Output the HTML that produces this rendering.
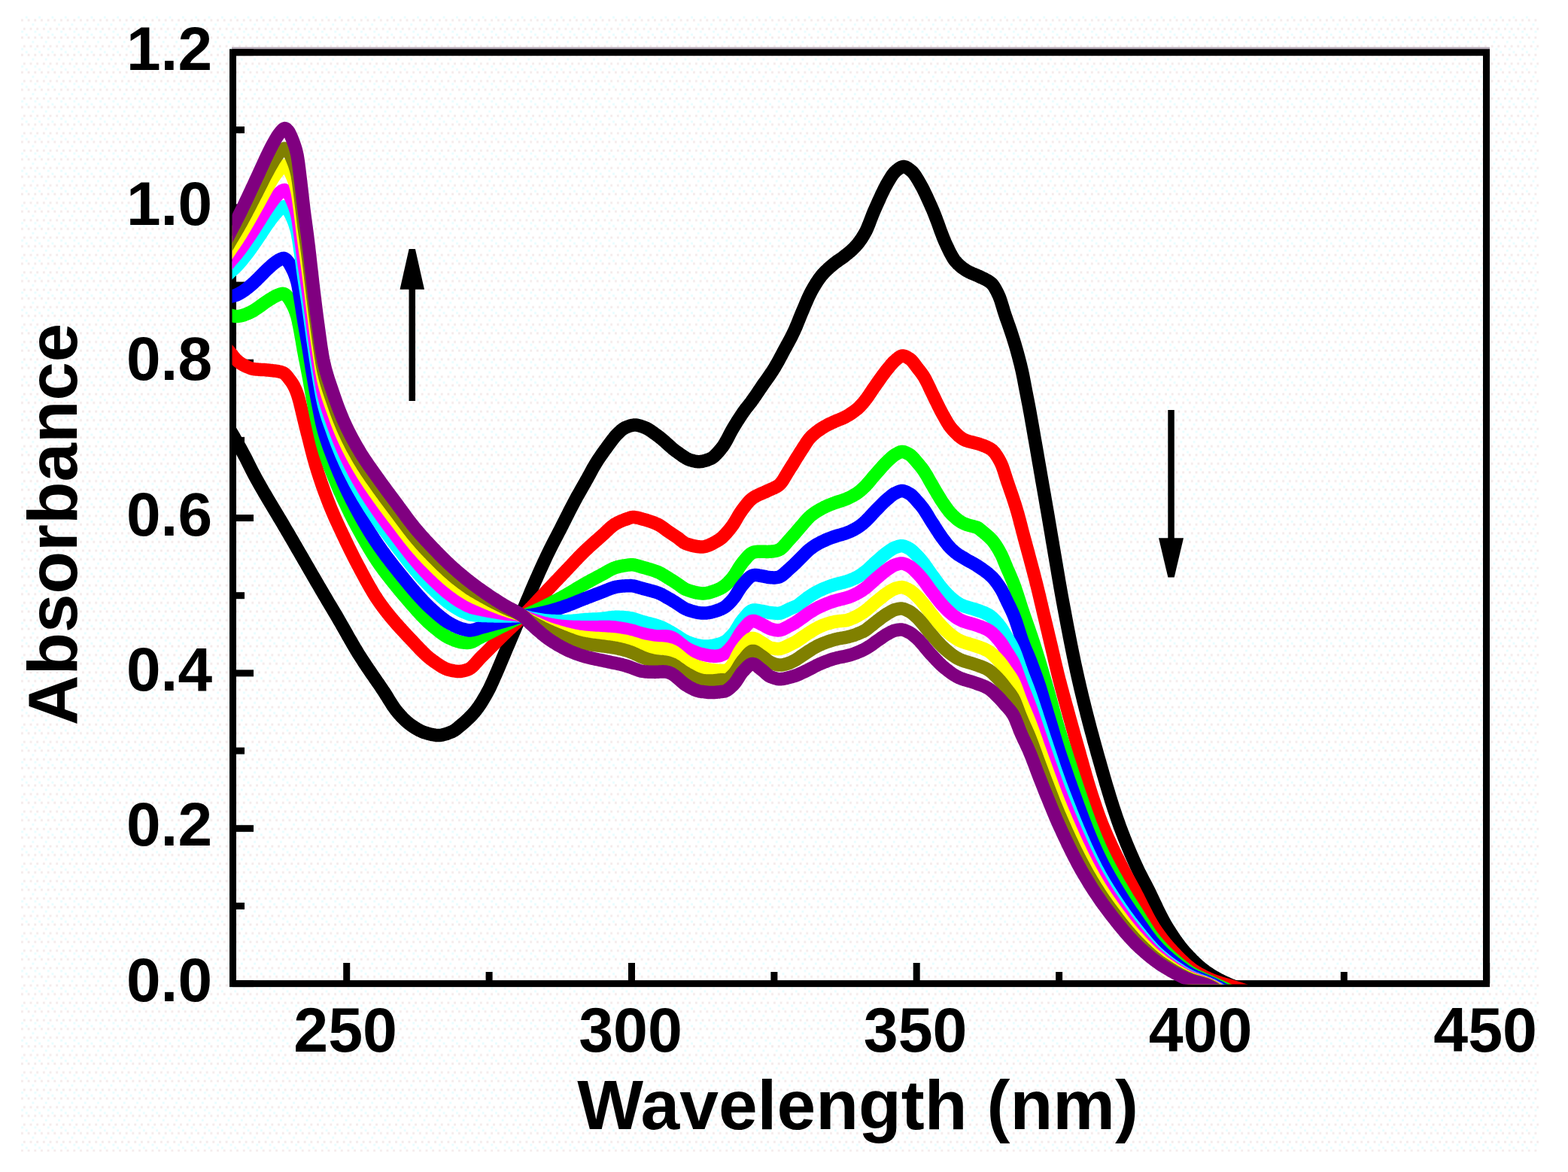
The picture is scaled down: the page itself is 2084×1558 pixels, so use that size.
<!DOCTYPE html>
<html><head><meta charset="utf-8"><title>Absorbance vs Wavelength</title>
<style>
html,body{margin:0;padding:0;background:#fff;}
body{width:2084px;height:1558px;overflow:hidden;}
svg{display:block;}
text{font-family:"Liberation Sans",sans-serif;font-weight:bold;fill:#000;}
</style></head><body>
<svg xmlns="http://www.w3.org/2000/svg" width="2084" height="1558" viewBox="0 0 2084 1558">
<rect x="0" y="0" width="2084" height="1558" fill="#ffffff"/>
<defs>
<pattern id="dz" x="28" y="21" width="17.34" height="23.12" patternUnits="userSpaceOnUse">
<rect x="0" y="4.4" width="2.9" height="2.9" fill="#f4ebeb"/><rect x="8.67" y="4.4" width="2.9" height="2.9" fill="#f4ebeb"/>
<rect x="2.9" y="15.96" width="2.9" height="2.9" fill="#f4ebeb"/><rect x="11.57" y="15.96" width="2.9" height="2.9" fill="#f4ebeb"/>
<rect x="5.8" y="0.6" width="2.9" height="2.9" fill="#e8fdff"/><rect x="14.4" y="10.2" width="2.9" height="2.9" fill="#e8fdff"/>
<rect x="0.2" y="19.8" width="2.9" height="2.9" fill="#e8fdff"/>
</pattern>
<clipPath id="c"><rect x="308.5" y="69" width="1667.5" height="1239.5"/></clipPath></defs>
<rect x="28" y="21" width="2017" height="1510" fill="url(#dz)"/>
<rect x="308" y="62.6" width="1672" height="3" fill="#b5a9b6"/>
<rect x="309.5" y="69.7" width="1666" height="1237.9" fill="none" stroke="#000" stroke-width="9"/>
<g stroke="#000" stroke-width="9" fill="none"><line x1="460.7" y1="1307.6" x2="460.7" y2="1280" /><line x1="839.5" y1="1307.6" x2="839.5" y2="1280" /><line x1="1218.2" y1="1307.6" x2="1218.2" y2="1280" /><line x1="1597.0" y1="1307.6" x2="1597.0" y2="1280" /><line x1="1975.7" y1="1307.6" x2="1975.7" y2="1280" /><line x1="650.1" y1="1307.6" x2="650.1" y2="1292" /><line x1="1028.9" y1="1307.6" x2="1028.9" y2="1292" /><line x1="1407.6" y1="1307.6" x2="1407.6" y2="1292" /><line x1="1786.3" y1="1307.6" x2="1786.3" y2="1292" /><line x1="309" y1="1307.6" x2="337" y2="1307.6" /><line x1="309" y1="1204.4" x2="325" y2="1204.4" /><line x1="309" y1="1101.3" x2="337" y2="1101.3" /><line x1="309" y1="998.1" x2="325" y2="998.1" /><line x1="309" y1="894.9" x2="337" y2="894.9" /><line x1="309" y1="791.7" x2="325" y2="791.7" /><line x1="309" y1="688.6" x2="337" y2="688.6" /><line x1="309" y1="585.4" x2="325" y2="585.4" /><line x1="309" y1="482.2" x2="337" y2="482.2" /><line x1="309" y1="379.1" x2="325" y2="379.1" /><line x1="309" y1="275.9" x2="337" y2="275.9" /><line x1="309" y1="172.7" x2="325" y2="172.7" /><line x1="309" y1="69.6" x2="337" y2="69.6" /></g>
<g clip-path="url(#c)" fill="none" stroke-width="17.5" stroke-linejoin="round" stroke-linecap="butt">
<path stroke="#000000" d="M296.0 554.4L297.5 557.1L299.0 559.7L300.5 562.3L302.0 565.0L303.5 567.6L305.0 570.2L306.5 572.9L308.0 575.5L309.5 578.1L311.0 580.7L312.5 583.4L314.0 586.0L315.5 588.7L317.0 591.4L318.5 594.1L320.0 596.8L321.5 599.5L323.0 602.3L324.5 605.1L326.0 607.9L327.5 610.8L329.0 613.8L330.5 616.8L332.0 619.8L333.5 622.8L335.0 625.8L336.5 628.7L338.0 631.5L339.5 634.3L341.0 637.1L342.5 639.8L344.0 642.5L345.5 645.1L347.0 647.8L348.5 650.4L350.0 653.0L351.5 655.6L353.0 658.1L354.5 660.7L356.0 663.2L357.5 665.7L359.0 668.2L360.5 670.7L362.0 673.2L363.5 675.7L365.0 678.2L366.5 680.7L368.0 683.2L369.5 685.7L371.0 688.3L372.5 690.8L374.0 693.3L375.5 695.8L377.0 698.4L378.5 700.9L380.0 703.5L381.5 706.1L383.0 708.6L384.5 711.2L386.0 713.8L387.5 716.3L389.0 718.9L390.5 721.5L392.0 724.1L393.5 726.7L395.0 729.3L396.5 731.9L398.0 734.5L399.5 737.0L401.0 739.6L402.5 742.2L404.0 744.8L405.5 747.4L407.0 750.0L408.5 752.6L410.0 755.2L411.5 757.8L413.0 760.4L414.5 763.0L416.0 765.6L417.5 768.2L419.0 770.7L420.5 773.3L422.0 775.9L423.5 778.5L425.0 781.0L426.5 783.6L428.0 786.2L429.5 788.7L431.0 791.3L432.5 793.8L434.0 796.4L435.5 798.9L437.0 801.5L438.5 804.0L440.0 806.5L441.5 809.0L443.0 811.5L444.5 814.1L446.0 816.6L447.5 819.1L449.0 821.7L450.5 824.3L452.0 826.9L453.5 829.5L455.0 832.1L456.5 834.8L458.0 837.4L459.5 840.1L461.0 842.7L462.5 845.4L464.0 848.0L465.5 850.6L467.0 853.2L468.5 855.8L470.0 858.4L471.5 860.9L473.0 863.5L474.5 865.9L476.0 868.4L477.5 870.8L479.0 873.2L480.5 875.5L482.0 877.8L483.5 880.1L485.0 882.4L486.5 884.6L488.0 886.9L489.5 889.1L491.0 891.3L492.5 893.5L494.0 895.7L495.5 897.9L497.0 900.0L498.5 902.2L500.0 904.4L501.5 906.6L503.0 908.7L504.5 910.9L506.0 913.1L507.5 915.4L509.0 917.6L510.5 919.8L512.0 922.1L513.5 924.5L515.0 926.9L516.5 929.4L518.0 931.8L519.5 934.2L521.0 936.6L522.5 938.9L524.0 941.0L525.5 943.1L527.0 945.0L528.5 946.8L530.0 948.6L531.5 950.3L533.0 951.9L534.5 953.6L536.0 955.1L537.5 956.6L539.0 958.0L540.5 959.4L542.0 960.7L543.5 961.9L545.0 963.0L546.5 964.1L548.0 965.1L549.5 966.1L551.0 967.1L552.5 968.1L554.0 969.0L555.5 969.8L557.0 970.7L558.5 971.4L560.0 972.1L561.5 972.8L563.0 973.4L564.5 973.9L566.0 974.3L567.5 974.7L569.0 975.2L570.5 975.6L572.0 976.0L573.5 976.3L575.0 976.7L576.5 976.9L578.0 977.2L579.5 977.4L581.0 977.5L582.5 977.5L584.0 977.5L585.5 977.3L587.0 977.1L588.5 976.8L590.0 976.4L591.5 976.0L593.0 975.6L594.5 975.1L596.0 974.5L597.5 974.0L599.0 973.4L600.5 972.8L602.0 972.1L603.5 971.2L605.0 970.2L606.5 969.1L608.0 968.0L609.5 966.7L611.0 965.4L612.5 964.1L614.0 962.9L615.5 961.6L617.0 960.3L618.5 959.0L620.0 957.6L621.5 956.2L623.0 954.8L624.5 953.3L626.0 951.8L627.5 950.2L629.0 948.5L630.5 946.8L632.0 945.0L633.5 943.1L635.0 941.1L636.5 939.0L638.0 936.8L639.5 934.5L641.0 932.1L642.5 929.6L644.0 927.1L645.5 924.5L647.0 921.8L648.5 919.1L650.0 916.2L651.5 913.1L653.0 909.9L654.5 906.6L656.0 903.2L657.5 899.8L659.0 896.4L660.5 893.0L662.0 889.5L663.5 886.0L665.0 882.4L666.5 878.8L668.0 875.2L669.5 871.7L671.0 868.1L672.5 864.6L674.0 861.0L675.5 857.5L677.0 854.0L678.5 850.4L680.0 846.9L681.5 843.3L683.0 839.8L684.5 836.3L686.0 832.7L687.5 829.2L689.0 825.7L690.5 822.1L692.0 818.6L693.5 815.0L695.0 811.5L696.5 807.9L698.0 804.3L699.5 800.7L701.0 797.1L702.5 793.6L704.0 790.0L705.5 786.4L707.0 782.9L708.5 779.4L710.0 775.9L711.5 772.5L713.0 769.1L714.5 765.7L716.0 762.3L717.5 759.0L719.0 755.7L720.5 752.4L722.0 749.1L723.5 745.8L725.0 742.6L726.5 739.4L728.0 736.3L729.5 733.2L731.0 730.2L732.5 727.2L734.0 724.2L735.5 721.3L737.0 718.3L738.5 715.4L740.0 712.6L741.5 709.7L743.0 706.8L744.5 703.9L746.0 701.0L747.5 698.0L749.0 695.1L750.5 692.1L752.0 689.1L753.5 686.1L755.0 683.2L756.5 680.2L758.0 677.3L759.5 674.3L761.0 671.4L762.5 668.6L764.0 665.7L765.5 663.0L767.0 660.2L768.5 657.6L770.0 654.9L771.5 652.3L773.0 649.7L774.5 647.0L776.0 644.4L777.5 641.8L779.0 639.1L780.5 636.4L782.0 633.6L783.5 630.9L785.0 628.1L786.5 625.3L788.0 622.6L789.5 620.0L791.0 617.5L792.5 615.0L794.0 612.6L795.5 610.3L797.0 608.1L798.5 605.9L800.0 603.7L801.5 601.6L803.0 599.5L804.5 597.4L806.0 595.4L807.5 593.3L809.0 591.3L810.5 589.3L812.0 587.3L813.5 585.3L815.0 583.3L816.5 581.4L818.0 579.6L819.5 578.0L821.0 576.5L822.5 575.0L824.0 573.6L825.5 572.2L827.0 571.0L828.5 569.9L830.0 569.0L831.5 568.3L833.0 567.7L834.5 567.1L836.0 566.5L837.5 566.0L839.0 565.6L840.5 565.3L842.0 565.1L843.5 565.0L845.0 565.0L846.5 565.2L848.0 565.5L849.5 565.9L851.0 566.3L852.5 566.8L854.0 567.3L855.5 567.8L857.0 568.4L858.5 569.0L860.0 569.7L861.5 570.6L863.0 571.5L864.5 572.4L866.0 573.5L867.5 574.5L869.0 575.6L870.5 576.7L872.0 577.8L873.5 578.9L875.0 580.0L876.5 581.1L878.0 582.3L879.5 583.5L881.0 584.8L882.5 586.1L884.0 587.4L885.5 588.8L887.0 590.1L888.5 591.5L890.0 592.9L891.5 594.2L893.0 595.5L894.5 596.8L896.0 598.0L897.5 599.2L899.0 600.3L900.5 601.3L902.0 602.4L903.5 603.5L905.0 604.5L906.5 605.6L908.0 606.6L909.5 607.6L911.0 608.5L912.5 609.4L914.0 610.2L915.5 610.9L917.0 611.5L918.5 611.9L920.0 612.3L921.5 612.7L923.0 613.0L924.5 613.3L926.0 613.6L927.5 613.7L929.0 613.7L930.5 613.7L932.0 613.5L933.5 613.3L935.0 612.9L936.5 612.5L938.0 612.1L939.5 611.6L941.0 611.1L942.5 610.5L944.0 609.9L945.5 609.2L947.0 608.2L948.5 607.1L950.0 605.8L951.5 604.3L953.0 602.8L954.5 601.1L956.0 599.4L957.5 597.6L959.0 595.7L960.5 593.8L962.0 591.6L963.5 589.2L965.0 586.6L966.5 583.8L968.0 580.9L969.5 578.0L971.0 575.2L972.5 572.4L974.0 569.7L975.5 567.2L977.0 564.7L978.5 562.3L980.0 559.9L981.5 557.6L983.0 555.3L984.5 553.0L986.0 550.7L987.5 548.5L989.0 546.4L990.5 544.3L992.0 542.3L993.5 540.5L995.0 538.6L996.5 536.7L998.0 534.8L999.5 532.7L1001.0 530.6L1002.5 528.4L1004.0 526.3L1005.5 524.1L1007.0 521.9L1008.5 519.6L1010.0 517.4L1011.5 515.2L1013.0 513.0L1014.5 510.8L1016.0 508.7L1017.5 506.6L1019.0 504.5L1020.5 502.4L1022.0 500.2L1023.5 498.0L1025.0 495.8L1026.5 493.6L1028.0 491.2L1029.5 488.8L1031.0 486.2L1032.5 483.6L1034.0 480.9L1035.5 478.2L1037.0 475.4L1038.5 472.6L1040.0 469.7L1041.5 466.9L1043.0 464.1L1044.5 461.4L1046.0 458.6L1047.5 455.9L1049.0 453.1L1050.5 450.3L1052.0 447.4L1053.5 444.4L1055.0 441.3L1056.5 438.0L1058.0 434.6L1059.5 431.0L1061.0 427.3L1062.5 423.5L1064.0 419.8L1065.5 416.2L1067.0 412.6L1068.5 409.1L1070.0 405.5L1071.5 402.0L1073.0 398.5L1074.5 395.2L1076.0 392.0L1077.5 389.0L1079.0 386.2L1080.5 383.5L1082.0 380.9L1083.5 378.4L1085.0 376.0L1086.5 373.7L1088.0 371.5L1089.5 369.4L1091.0 367.4L1092.5 365.6L1094.0 363.9L1095.5 362.3L1097.0 360.7L1098.5 359.3L1100.0 357.9L1101.5 356.5L1103.0 355.2L1104.5 353.9L1106.0 352.7L1107.5 351.4L1109.0 350.2L1110.5 349.0L1112.0 347.9L1113.5 346.9L1115.0 345.8L1116.5 344.8L1118.0 343.7L1119.5 342.7L1121.0 341.6L1122.5 340.4L1124.0 339.2L1125.5 338.0L1127.0 336.8L1128.5 335.5L1130.0 334.3L1131.5 333.0L1133.0 331.6L1134.5 330.1L1136.0 328.6L1137.5 327.0L1139.0 325.3L1140.5 323.5L1142.0 321.5L1143.5 319.4L1145.0 317.3L1146.5 314.9L1148.0 312.5L1149.5 309.9L1151.0 307.1L1152.5 303.8L1154.0 300.3L1155.5 296.5L1157.0 292.5L1158.5 288.6L1160.0 284.8L1161.5 281.1L1163.0 277.7L1164.5 274.4L1166.0 271.0L1167.5 267.6L1169.0 264.3L1170.5 261.0L1172.0 257.8L1173.5 254.7L1175.0 251.7L1176.5 248.8L1178.0 246.0L1179.5 243.3L1181.0 240.8L1182.5 238.3L1184.0 235.8L1185.5 233.4L1187.0 231.3L1188.5 229.5L1190.0 228.0L1191.5 226.7L1193.0 225.5L1194.5 224.3L1196.0 223.3L1197.5 222.4L1199.0 221.8L1200.5 221.5L1202.0 221.6L1203.5 222.0L1205.0 222.7L1206.5 223.6L1208.0 224.7L1209.5 225.9L1211.0 227.2L1212.5 228.4L1214.0 230.1L1215.5 232.0L1217.0 234.2L1218.5 236.6L1220.0 239.1L1221.5 241.7L1223.0 244.2L1224.5 246.9L1226.0 249.7L1227.5 252.6L1229.0 255.7L1230.5 258.8L1232.0 262.0L1233.5 265.3L1235.0 268.6L1236.5 272.0L1238.0 275.4L1239.5 278.8L1241.0 282.4L1242.5 286.1L1244.0 290.0L1245.5 294.0L1247.0 298.1L1248.5 302.3L1250.0 306.4L1251.5 310.4L1253.0 314.4L1254.5 318.1L1256.0 321.7L1257.5 325.0L1259.0 328.1L1260.5 331.3L1262.0 334.3L1263.5 337.3L1265.0 340.0L1266.5 342.6L1268.0 344.9L1269.5 346.9L1271.0 348.6L1272.5 350.2L1274.0 351.7L1275.5 353.1L1277.0 354.4L1278.5 355.6L1280.0 356.7L1281.5 357.8L1283.0 358.8L1284.5 359.7L1286.0 360.6L1287.5 361.4L1289.0 362.1L1290.5 362.8L1292.0 363.5L1293.5 364.1L1295.0 364.7L1296.5 365.3L1298.0 365.9L1299.5 366.6L1301.0 367.3L1302.5 368.0L1304.0 368.7L1305.5 369.4L1307.0 370.1L1308.5 370.8L1310.0 371.6L1311.5 372.4L1313.0 373.2L1314.5 374.2L1316.0 375.3L1317.5 376.5L1319.0 378.0L1320.5 380.0L1322.0 382.3L1323.5 384.9L1325.0 387.8L1326.5 390.9L1328.0 394.1L1329.5 398.1L1331.0 402.7L1332.5 407.6L1334.0 412.7L1335.5 417.5L1337.0 421.9L1338.5 426.2L1340.0 430.4L1341.5 434.7L1343.0 439.0L1344.5 443.5L1346.0 448.1L1347.5 452.9L1349.0 457.8L1350.5 462.9L1352.0 468.2L1353.5 473.7L1355.0 479.4L1356.5 485.3L1358.0 491.7L1359.5 498.6L1361.0 506.4L1362.5 514.4L1364.0 522.1L1365.5 529.7L1367.0 537.4L1368.5 545.4L1370.0 553.7L1371.5 562.2L1373.0 570.8L1374.5 579.4L1376.0 588.0L1377.5 596.6L1379.0 605.2L1380.5 613.9L1382.0 622.6L1383.5 631.2L1385.0 639.9L1386.5 648.5L1388.0 657.1L1389.5 665.7L1391.0 674.4L1392.5 683.1L1394.0 691.9L1395.5 700.7L1397.0 709.6L1398.5 718.5L1400.0 727.4L1401.5 736.2L1403.0 745.0L1404.5 753.9L1406.0 762.8L1407.5 771.6L1409.0 780.2L1410.5 788.7L1412.0 797.0L1413.5 805.1L1415.0 813.2L1416.5 821.2L1418.0 829.1L1419.5 836.9L1421.0 844.7L1422.5 852.3L1424.0 859.9L1425.5 867.3L1427.0 874.6L1428.5 881.7L1430.0 888.7L1431.5 895.5L1433.0 902.2L1434.5 908.7L1436.0 915.2L1437.5 921.5L1439.0 927.7L1440.5 933.9L1442.0 939.9L1443.5 945.9L1445.0 951.7L1446.5 957.5L1448.0 963.3L1449.5 968.9L1451.0 974.5L1452.5 980.1L1454.0 985.6L1455.5 991.0L1457.0 996.4L1458.5 1001.8L1460.0 1007.1L1461.5 1012.4L1463.0 1017.7L1464.5 1023.0L1466.0 1028.2L1467.5 1033.4L1469.0 1038.5L1470.5 1043.6L1472.0 1048.6L1473.5 1053.6L1475.0 1058.5L1476.5 1063.3L1478.0 1068.1L1479.5 1072.8L1481.0 1077.3L1482.5 1081.8L1484.0 1086.2L1485.5 1090.6L1487.0 1094.8L1488.5 1098.9L1490.0 1102.9L1491.5 1106.8L1493.0 1110.7L1494.5 1114.6L1496.0 1118.3L1497.5 1122.0L1499.0 1125.6L1500.5 1129.2L1502.0 1132.7L1503.5 1136.2L1505.0 1139.6L1506.5 1143.0L1508.0 1146.3L1509.5 1149.6L1511.0 1152.9L1512.5 1156.1L1514.0 1159.2L1515.5 1162.2L1517.0 1165.1L1518.5 1168.0L1520.0 1170.9L1521.5 1173.7L1523.0 1176.6L1524.5 1179.5L1526.0 1182.5L1527.5 1185.5L1529.0 1188.6L1530.5 1191.8L1532.0 1194.9L1533.5 1198.1L1535.0 1201.3L1536.5 1204.4L1538.0 1207.6L1539.5 1210.7L1541.0 1213.7L1542.5 1216.7L1544.0 1219.6L1545.5 1222.5L1547.0 1225.2L1548.5 1227.9L1550.0 1230.4L1551.5 1232.9L1553.0 1235.3L1554.5 1237.7L1556.0 1240.1L1557.5 1242.4L1559.0 1244.7L1560.5 1246.9L1562.0 1249.1L1563.5 1251.2L1565.0 1253.3L1566.5 1255.3L1568.0 1257.3L1569.5 1259.2L1571.0 1261.1L1572.5 1262.9L1574.0 1264.7L1575.5 1266.3L1577.0 1268.0L1578.5 1269.6L1580.0 1271.2L1581.5 1272.8L1583.0 1274.3L1584.5 1275.9L1586.0 1277.3L1587.5 1278.8L1589.0 1280.2L1590.5 1281.6L1592.0 1283.0L1593.5 1284.3L1595.0 1285.6L1596.5 1286.8L1598.0 1288.1L1599.5 1289.2L1601.0 1290.4L1602.5 1291.5L1604.0 1292.5L1605.5 1293.6L1607.0 1294.6L1608.5 1295.5L1610.0 1296.5L1611.5 1297.4L1613.0 1298.3L1614.5 1299.1L1616.0 1300.0L1617.5 1300.8L1619.0 1301.6L1620.5 1302.4L1622.0 1303.2L1623.5 1303.9L1625.0 1304.6L1626.5 1305.4L1628.0 1306.1L1629.5 1306.8L1631.0 1307.4L1632.5 1308.1L1634.0 1308.8L1635.5 1309.4L1637.0 1310.0L1638.5 1310.7L1640.0 1311.3L1641.5 1311.9L1643.0 1312.5L1644.5 1313.1L1646.0 1313.7L1647.5 1314.2L1649.0 1314.8L1650.5 1315.4L1652.0 1315.9L1653.5 1316.4L1655.0 1316.9L1656.5 1317.4L1658.0 1317.9L1659.5 1318.4L1661.0 1318.8L1662.5 1319.3L1664.0 1319.7L1665.5 1320.2L1667.0 1320.7L1668.5 1321.3L1670.0 1321.8L1671.5 1322.3L1673.0 1322.9L1674.5 1323.4L1676.0 1324.0L1677.5 1324.5L1679.0 1325.0L1680.5 1325.6L1682.0 1326.1L1683.5 1326.6L1685.0 1327.2L1686.5 1327.7L1688.0 1328.3L1689.5 1328.8L1691.0 1329.3L1692.5 1329.9L1694.0 1330.4L1695.5 1331.0L1697.0 1331.5L1698.5 1332.0L1700.0 1332.6"/>
<path stroke="#ff0000" d="M296.0 457.5L297.5 459.2L299.0 460.9L300.5 462.6L302.0 464.2L303.5 465.9L305.0 467.6L306.5 469.3L308.0 471.0L309.5 473.0L311.0 474.8L312.5 476.6L314.0 478.1L315.5 479.6L317.0 480.8L318.5 482.0L320.0 483.1L321.5 484.1L323.0 485.0L324.5 485.8L326.0 486.5L327.5 487.2L329.0 487.9L330.5 488.5L332.0 489.1L333.5 489.7L335.0 490.1L336.5 490.4L338.0 490.7L339.5 490.8L341.0 491.0L342.5 491.1L344.0 491.2L345.5 491.3L347.0 491.4L348.5 491.5L350.0 491.5L351.5 491.6L353.0 491.7L354.5 491.9L356.0 492.0L357.5 492.2L359.0 492.3L360.5 492.5L362.0 492.6L363.5 492.8L365.0 493.0L366.5 493.2L368.0 493.4L369.5 493.7L371.0 494.0L372.5 494.3L374.0 494.7L375.5 495.2L377.0 495.9L378.5 497.0L380.0 498.4L381.5 500.1L383.0 501.9L384.5 503.9L386.0 505.9L387.5 508.0L389.0 510.3L390.5 512.9L392.0 516.0L393.5 519.4L395.0 523.4L396.5 528.1L398.0 533.5L399.5 539.4L401.0 545.6L402.5 551.9L404.0 558.3L405.5 564.5L407.0 570.4L408.5 576.2L410.0 582.1L411.5 588.1L413.0 594.1L414.5 600.0L416.0 605.7L417.5 611.3L419.0 616.6L420.5 621.6L422.0 626.5L423.5 631.2L425.0 635.7L426.5 640.2L428.0 644.6L429.5 648.8L431.0 653.0L432.5 657.0L434.0 661.0L435.5 664.9L437.0 668.7L438.5 672.5L440.0 676.2L441.5 679.7L443.0 683.2L444.5 686.7L446.0 690.1L447.5 693.4L449.0 696.6L450.5 699.9L452.0 703.1L453.5 706.3L455.0 709.5L456.5 712.6L458.0 715.8L459.5 719.0L461.0 722.1L462.5 725.2L464.0 728.3L465.5 731.4L467.0 734.4L468.5 737.4L470.0 740.4L471.5 743.3L473.0 746.2L474.5 749.1L476.0 751.9L477.5 754.7L479.0 757.5L480.5 760.3L482.0 763.1L483.5 765.9L485.0 768.7L486.5 771.4L488.0 774.2L489.5 776.8L491.0 779.5L492.5 782.1L494.0 784.7L495.5 787.2L497.0 789.7L498.5 792.1L500.0 794.4L501.5 796.7L503.0 798.9L504.5 801.1L506.0 803.2L507.5 805.2L509.0 807.3L510.5 809.3L512.0 811.2L513.5 813.2L515.0 815.1L516.5 816.9L518.0 818.8L519.5 820.6L521.0 822.4L522.5 824.2L524.0 825.9L525.5 827.7L527.0 829.4L528.5 831.1L530.0 832.8L531.5 834.4L533.0 836.1L534.5 837.7L536.0 839.3L537.5 841.0L539.0 842.6L540.5 844.2L542.0 845.8L543.5 847.4L545.0 848.9L546.5 850.5L548.0 852.1L549.5 853.7L551.0 855.3L552.5 856.9L554.0 858.5L555.5 860.1L557.0 861.7L558.5 863.2L560.0 864.8L561.5 866.3L563.0 867.7L564.5 869.2L566.0 870.6L567.5 872.0L569.0 873.3L570.5 874.5L572.0 875.8L573.5 876.9L575.0 878.0L576.5 879.1L578.0 880.1L579.5 881.2L581.0 882.3L582.5 883.3L584.0 884.3L585.5 885.2L587.0 886.2L588.5 887.0L590.0 887.8L591.5 888.6L593.0 889.2L594.5 889.8L596.0 890.2L597.5 890.6L599.0 891.0L600.5 891.3L602.0 891.6L603.5 891.9L605.0 892.1L606.5 892.3L608.0 892.4L609.5 892.5L611.0 892.5L612.5 892.4L614.0 892.1L615.5 891.9L617.0 891.5L618.5 891.1L620.0 890.6L621.5 890.2L623.0 889.6L624.5 888.8L626.0 887.7L627.5 886.5L629.0 885.0L630.5 883.5L632.0 881.8L633.5 880.1L635.0 878.4L636.5 876.7L638.0 875.1L639.5 873.5L641.0 872.0L642.5 870.6L644.0 869.1L645.5 867.6L647.0 866.1L648.5 864.6L650.0 863.1L651.5 861.6L653.0 860.0L654.5 858.5L656.0 857.0L657.5 855.5L659.0 854.0L660.5 852.5L662.0 851.0L663.5 849.5L665.0 848.0L666.5 846.5L668.0 845.1L669.5 843.6L671.0 842.2L672.5 840.7L674.0 839.3L675.5 837.9L677.0 836.4L678.5 835.0L680.0 833.6L681.5 832.2L683.0 830.7L684.5 829.3L686.0 827.9L687.5 826.4L689.0 824.9L690.5 823.5L692.0 822.0L693.5 820.5L695.0 819.0L696.5 817.5L698.0 815.9L699.5 814.4L701.0 812.9L702.5 811.3L704.0 809.7L705.5 808.1L707.0 806.6L708.5 805.0L710.0 803.4L711.5 801.8L713.0 800.2L714.5 798.6L716.0 796.9L717.5 795.3L719.0 793.7L720.5 792.1L722.0 790.5L723.5 788.9L725.0 787.3L726.5 785.7L728.0 784.1L729.5 782.5L731.0 780.9L732.5 779.4L734.0 777.8L735.5 776.2L737.0 774.6L738.5 773.0L740.0 771.5L741.5 769.9L743.0 768.3L744.5 766.7L746.0 765.2L747.5 763.6L749.0 762.0L750.5 760.4L752.0 758.8L753.5 757.3L755.0 755.7L756.5 754.1L758.0 752.5L759.5 750.9L761.0 749.3L762.5 747.7L764.0 746.1L765.5 744.5L767.0 742.9L768.5 741.3L770.0 739.8L771.5 738.2L773.0 736.7L774.5 735.2L776.0 733.8L777.5 732.3L779.0 730.9L780.5 729.5L782.0 728.1L783.5 726.7L785.0 725.3L786.5 724.0L788.0 722.6L789.5 721.3L791.0 719.9L792.5 718.6L794.0 717.3L795.5 716.0L797.0 714.6L798.5 713.3L800.0 712.0L801.5 710.7L803.0 709.3L804.5 707.9L806.0 706.4L807.5 705.0L809.0 703.6L810.5 702.2L812.0 700.9L813.5 699.7L815.0 698.5L816.5 697.4L818.0 696.4L819.5 695.6L821.0 694.8L822.5 694.1L824.0 693.4L825.5 692.7L827.0 692.1L828.5 691.5L830.0 690.9L831.5 690.4L833.0 689.9L834.5 689.4L836.0 688.8L837.5 688.2L839.0 687.8L840.5 687.5L842.0 687.5L843.5 687.6L845.0 687.8L846.5 688.1L848.0 688.4L849.5 688.8L851.0 689.2L852.5 689.6L854.0 690.1L855.5 690.5L857.0 690.9L858.5 691.3L860.0 691.7L861.5 692.2L863.0 692.7L864.5 693.2L866.0 693.7L867.5 694.3L869.0 694.8L870.5 695.5L872.0 696.1L873.5 696.8L875.0 697.5L876.5 698.3L878.0 699.2L879.5 700.2L881.0 701.3L882.5 702.4L884.0 703.5L885.5 704.6L887.0 705.7L888.5 706.7L890.0 707.7L891.5 708.7L893.0 709.7L894.5 710.7L896.0 711.7L897.5 712.7L899.0 713.7L900.5 714.7L902.0 715.9L903.5 717.1L905.0 718.3L906.5 719.5L908.0 720.6L909.5 721.6L911.0 722.4L912.5 723.0L914.0 723.5L915.5 723.9L917.0 724.4L918.5 724.8L920.0 725.2L921.5 725.6L923.0 725.9L924.5 726.2L926.0 726.5L927.5 726.7L929.0 726.8L930.5 726.9L932.0 727.0L933.5 727.0L935.0 726.8L936.5 726.6L938.0 726.2L939.5 725.8L941.0 725.3L942.5 724.7L944.0 724.0L945.5 723.3L947.0 722.6L948.5 721.7L950.0 720.9L951.5 720.1L953.0 719.2L954.5 718.3L956.0 717.4L957.5 716.3L959.0 715.1L960.5 713.8L962.0 712.3L963.5 710.8L965.0 709.1L966.5 707.4L968.0 705.6L969.5 703.8L971.0 701.9L972.5 700.0L974.0 697.9L975.5 695.6L977.0 693.2L978.5 690.6L980.0 688.0L981.5 685.4L983.0 682.9L984.5 680.7L986.0 678.6L987.5 676.6L989.0 674.6L990.5 672.6L992.0 670.7L993.5 668.8L995.0 667.1L996.5 665.5L998.0 664.1L999.5 662.9L1001.0 661.8L1002.5 660.8L1004.0 660.0L1005.5 659.1L1007.0 658.4L1008.5 657.6L1010.0 657.0L1011.5 656.3L1013.0 655.7L1014.5 655.0L1016.0 654.4L1017.5 653.7L1019.0 653.0L1020.5 652.3L1022.0 651.6L1023.5 650.9L1025.0 650.3L1026.5 649.6L1028.0 649.0L1029.5 648.3L1031.0 647.5L1032.5 646.7L1034.0 645.7L1035.5 644.6L1037.0 643.2L1038.5 641.4L1040.0 639.3L1041.5 637.1L1043.0 634.6L1044.5 632.1L1046.0 629.6L1047.5 627.0L1049.0 624.6L1050.5 622.2L1052.0 619.9L1053.5 617.5L1055.0 615.1L1056.5 612.6L1058.0 610.1L1059.5 607.7L1061.0 605.3L1062.5 602.9L1064.0 600.5L1065.5 598.2L1067.0 595.9L1068.5 593.5L1070.0 591.2L1071.5 588.8L1073.0 586.6L1074.5 584.5L1076.0 582.7L1077.5 581.0L1079.0 579.5L1080.5 578.1L1082.0 576.8L1083.5 575.5L1085.0 574.3L1086.5 573.2L1088.0 572.1L1089.5 571.1L1091.0 570.1L1092.5 569.1L1094.0 568.2L1095.5 567.3L1097.0 566.4L1098.5 565.6L1100.0 564.8L1101.5 564.0L1103.0 563.3L1104.5 562.6L1106.0 561.9L1107.5 561.2L1109.0 560.5L1110.5 559.9L1112.0 559.2L1113.5 558.6L1115.0 558.0L1116.5 557.4L1118.0 556.8L1119.5 556.2L1121.0 555.5L1122.5 554.7L1124.0 554.0L1125.5 553.1L1127.0 552.3L1128.5 551.4L1130.0 550.4L1131.5 549.4L1133.0 548.4L1134.5 547.3L1136.0 546.2L1137.5 545.0L1139.0 543.8L1140.5 542.6L1142.0 541.2L1143.5 539.6L1145.0 538.0L1146.5 536.3L1148.0 534.5L1149.5 532.6L1151.0 530.7L1152.5 528.7L1154.0 526.6L1155.5 524.4L1157.0 522.1L1158.5 519.9L1160.0 517.6L1161.5 515.4L1163.0 513.3L1164.5 511.2L1166.0 509.0L1167.5 506.9L1169.0 504.7L1170.5 502.6L1172.0 500.5L1173.5 498.4L1175.0 496.4L1176.5 494.4L1178.0 492.5L1179.5 490.6L1181.0 488.8L1182.5 487.0L1184.0 485.2L1185.5 483.4L1187.0 481.8L1188.5 480.3L1190.0 479.0L1191.5 477.7L1193.0 476.5L1194.5 475.2L1196.0 474.2L1197.5 473.4L1199.0 473.0L1200.5 473.1L1202.0 473.4L1203.5 473.9L1205.0 474.6L1206.5 475.5L1208.0 476.4L1209.5 477.3L1211.0 478.6L1212.5 480.2L1214.0 482.0L1215.5 483.9L1217.0 486.0L1218.5 488.0L1220.0 490.0L1221.5 491.9L1223.0 493.7L1224.5 495.7L1226.0 497.8L1227.5 500.0L1229.0 502.5L1230.5 505.3L1232.0 508.2L1233.5 511.3L1235.0 514.5L1236.5 517.7L1238.0 520.9L1239.5 524.0L1241.0 527.0L1242.5 530.1L1244.0 533.2L1245.5 536.3L1247.0 539.4L1248.5 542.4L1250.0 545.4L1251.5 548.2L1253.0 550.9L1254.5 553.6L1256.0 556.3L1257.5 558.9L1259.0 561.4L1260.5 563.8L1262.0 566.1L1263.5 568.2L1265.0 570.0L1266.5 571.7L1268.0 573.3L1269.5 574.9L1271.0 576.4L1272.5 577.9L1274.0 579.3L1275.5 580.5L1277.0 581.7L1278.5 582.8L1280.0 583.7L1281.5 584.5L1283.0 585.2L1284.5 585.8L1286.0 586.3L1287.5 586.7L1289.0 587.1L1290.5 587.5L1292.0 587.9L1293.5 588.2L1295.0 588.6L1296.5 589.0L1298.0 589.4L1299.5 589.8L1301.0 590.3L1302.5 590.8L1304.0 591.3L1305.5 591.8L1307.0 592.4L1308.5 592.9L1310.0 593.5L1311.5 594.2L1313.0 594.9L1314.5 595.7L1316.0 596.5L1317.5 597.5L1319.0 598.7L1320.5 600.2L1322.0 601.9L1323.5 604.0L1325.0 606.2L1326.5 608.6L1328.0 611.3L1329.5 614.0L1331.0 617.1L1332.5 620.9L1334.0 625.3L1335.5 629.9L1337.0 634.7L1338.5 639.3L1340.0 643.6L1341.5 648.0L1343.0 652.3L1344.5 656.6L1346.0 661.0L1347.5 665.6L1349.0 670.2L1350.5 675.0L1352.0 680.1L1353.5 685.4L1355.0 691.0L1356.5 696.8L1358.0 702.6L1359.5 708.4L1361.0 714.1L1362.5 719.6L1364.0 725.1L1365.5 730.6L1367.0 736.1L1368.5 741.7L1370.0 747.3L1371.5 753.0L1373.0 758.6L1374.5 764.3L1376.0 770.1L1377.5 776.0L1379.0 782.0L1380.5 788.2L1382.0 794.5L1383.5 800.9L1385.0 807.3L1386.5 813.7L1388.0 820.0L1389.5 826.3L1391.0 832.6L1392.5 838.9L1394.0 845.3L1395.5 851.6L1397.0 857.9L1398.5 864.2L1400.0 870.6L1401.5 877.1L1403.0 883.5L1404.5 889.8L1406.0 896.0L1407.5 902.0L1409.0 907.8L1410.5 913.5L1412.0 919.1L1413.5 924.6L1415.0 930.1L1416.5 935.5L1418.0 940.9L1419.5 946.4L1421.0 951.8L1422.5 957.3L1424.0 962.7L1425.5 968.1L1427.0 973.4L1428.5 978.8L1430.0 984.1L1431.5 989.4L1433.0 994.7L1434.5 1000.0L1436.0 1005.3L1437.5 1010.6L1439.0 1015.9L1440.5 1021.3L1442.0 1026.5L1443.5 1031.8L1445.0 1036.9L1446.5 1041.9L1448.0 1046.8L1449.5 1051.6L1451.0 1056.3L1452.5 1060.9L1454.0 1065.5L1455.5 1069.9L1457.0 1074.4L1458.5 1078.7L1460.0 1082.9L1461.5 1087.0L1463.0 1090.9L1464.5 1094.8L1466.0 1098.5L1467.5 1102.1L1469.0 1105.6L1470.5 1109.1L1472.0 1112.6L1473.5 1115.9L1475.0 1119.3L1476.5 1122.5L1478.0 1125.7L1479.5 1128.9L1481.0 1132.0L1482.5 1135.1L1484.0 1138.2L1485.5 1141.2L1487.0 1144.2L1488.5 1147.2L1490.0 1150.2L1491.5 1153.1L1493.0 1156.1L1494.5 1159.0L1496.0 1161.9L1497.5 1164.8L1499.0 1167.6L1500.5 1170.4L1502.0 1173.1L1503.5 1175.8L1505.0 1178.5L1506.5 1181.2L1508.0 1184.0L1509.5 1186.8L1511.0 1189.7L1512.5 1192.6L1514.0 1195.6L1515.5 1198.6L1517.0 1201.6L1518.5 1204.6L1520.0 1207.6L1521.5 1210.5L1523.0 1213.5L1524.5 1216.4L1526.0 1219.3L1527.5 1222.1L1529.0 1224.8L1530.5 1227.4L1532.0 1230.0L1533.5 1232.4L1535.0 1234.8L1536.5 1237.0L1538.0 1239.1L1539.5 1241.2L1541.0 1243.3L1542.5 1245.3L1544.0 1247.3L1545.5 1249.2L1547.0 1251.1L1548.5 1253.0L1550.0 1254.8L1551.5 1256.5L1553.0 1258.3L1554.5 1260.0L1556.0 1261.6L1557.5 1263.3L1559.0 1264.9L1560.5 1266.5L1562.0 1268.0L1563.5 1269.6L1565.0 1271.1L1566.5 1272.6L1568.0 1274.1L1569.5 1275.6L1571.0 1277.1L1572.5 1278.5L1574.0 1279.9L1575.5 1281.3L1577.0 1282.7L1578.5 1284.0L1580.0 1285.2L1581.5 1286.4L1583.0 1287.6L1584.5 1288.7L1586.0 1289.8L1587.5 1290.8L1589.0 1291.7L1590.5 1292.6L1592.0 1293.5L1593.5 1294.4L1595.0 1295.2L1596.5 1296.0L1598.0 1296.8L1599.5 1297.6L1601.0 1298.4L1602.5 1299.1L1604.0 1299.8L1605.5 1300.5L1607.0 1301.1L1608.5 1301.8L1610.0 1302.4L1611.5 1303.0L1613.0 1303.6L1614.5 1304.2L1616.0 1304.7L1617.5 1305.3L1619.0 1305.8L1620.5 1306.3L1622.0 1306.7L1623.5 1307.2L1625.0 1307.6L1626.5 1308.1L1628.0 1308.5L1629.5 1308.9L1631.0 1309.3L1632.5 1309.8L1634.0 1310.2L1635.5 1310.6L1637.0 1311.1L1638.5 1311.5L1640.0 1312.0L1641.5 1312.5L1643.0 1313.0L1644.5 1313.4L1646.0 1313.9L1647.5 1314.4L1649.0 1314.9L1650.5 1315.4L1652.0 1315.9L1653.5 1316.4L1655.0 1316.9L1656.5 1317.4L1658.0 1317.9L1659.5 1318.4L1661.0 1318.9L1662.5 1319.4L1664.0 1319.9L1665.5 1320.4L1667.0 1321.0L1668.5 1321.5L1670.0 1322.0L1671.5 1322.5L1673.0 1323.0L1674.5 1323.5L1676.0 1324.0L1677.5 1324.5L1679.0 1325.0L1680.5 1325.5L1682.0 1326.0L1683.5 1326.5L1685.0 1327.0L1686.5 1327.5L1688.0 1328.0L1689.5 1328.5L1691.0 1329.0L1692.5 1329.5L1694.0 1330.0L1695.5 1330.5L1697.0 1331.0L1698.5 1331.5L1700.0 1332.0"/>
<path stroke="#00ff00" d="M296.0 417.4L297.5 417.6L299.0 417.9L300.5 418.1L302.0 418.4L303.5 418.6L305.0 418.9L306.5 419.1L308.0 419.4L309.5 419.8L311.0 420.1L312.5 420.4L314.0 420.5L315.5 420.5L317.0 420.3L318.5 420.1L320.0 419.9L321.5 419.5L323.0 419.1L324.5 418.6L326.0 418.0L327.5 417.5L329.0 416.9L330.5 416.2L332.0 415.6L333.5 414.8L335.0 414.0L336.5 413.2L338.0 412.2L339.5 411.2L341.0 410.2L342.5 409.2L344.0 408.2L345.5 407.1L347.0 406.1L348.5 405.0L350.0 403.9L351.5 402.8L353.0 401.7L354.5 400.7L356.0 399.7L357.5 398.8L359.0 397.8L360.5 396.9L362.0 396.0L363.5 395.1L365.0 394.3L366.5 393.5L368.0 392.8L369.5 392.1L371.0 391.5L372.5 391.0L374.0 390.6L375.5 390.3L377.0 390.4L378.5 391.0L380.0 392.2L381.5 393.7L383.0 395.6L384.5 397.7L386.0 400.1L387.5 402.7L389.0 405.5L390.5 408.6L392.0 412.1L393.5 416.1L395.0 420.9L396.5 427.2L398.0 434.8L399.5 442.8L401.0 451.2L402.5 459.9L404.0 468.4L405.5 476.3L407.0 483.9L408.5 491.5L410.0 499.5L411.5 507.7L413.0 516.1L414.5 524.5L416.0 532.6L417.5 540.5L419.0 548.1L420.5 555.4L422.0 562.4L423.5 569.1L425.0 575.8L426.5 582.3L428.0 588.5L429.5 594.1L431.0 599.1L432.5 603.9L434.0 608.3L435.5 612.6L437.0 616.7L438.5 620.8L440.0 624.7L441.5 628.5L443.0 632.3L444.5 636.1L446.0 639.8L447.5 643.4L449.0 647.0L450.5 650.5L452.0 653.9L453.5 657.3L455.0 660.6L456.5 663.9L458.0 667.2L459.5 670.4L461.0 673.6L462.5 676.7L464.0 679.8L465.5 682.8L467.0 685.8L468.5 688.8L470.0 691.7L471.5 694.6L473.0 697.5L474.5 700.3L476.0 703.0L477.5 705.8L479.0 708.5L480.5 711.2L482.0 713.9L483.5 716.6L485.0 719.2L486.5 721.8L488.0 724.4L489.5 727.0L491.0 729.5L492.5 732.0L494.0 734.4L495.5 736.8L497.0 739.2L498.5 741.6L500.0 743.8L501.5 746.1L503.0 748.3L504.5 750.5L506.0 752.6L507.5 754.7L509.0 756.7L510.5 758.8L512.0 760.8L513.5 762.8L515.0 764.8L516.5 766.7L518.0 768.6L519.5 770.5L521.0 772.4L522.5 774.3L524.0 776.2L525.5 778.0L527.0 779.8L528.5 781.7L530.0 783.5L531.5 785.3L533.0 787.1L534.5 788.9L536.0 790.7L537.5 792.4L539.0 794.2L540.5 796.0L542.0 797.7L543.5 799.4L545.0 801.2L546.5 802.9L548.0 804.6L549.5 806.3L551.0 808.0L552.5 809.7L554.0 811.4L555.5 813.1L557.0 814.7L558.5 816.3L560.0 817.9L561.5 819.5L563.0 821.1L564.5 822.6L566.0 824.1L567.5 825.6L569.0 827.0L570.5 828.4L572.0 829.7L573.5 831.0L575.0 832.3L576.5 833.5L578.0 834.8L579.5 836.0L581.0 837.2L582.5 838.4L584.0 839.6L585.5 840.8L587.0 841.9L588.5 843.0L590.0 844.0L591.5 845.0L593.0 845.9L594.5 846.7L596.0 847.5L597.5 848.2L599.0 848.9L600.5 849.6L602.0 850.2L603.5 850.9L605.0 851.4L606.5 852.0L608.0 852.5L609.5 852.9L611.0 853.3L612.5 853.6L614.0 853.9L615.5 854.1L617.0 854.2L618.5 854.3L620.0 854.4L621.5 854.4L623.0 854.3L624.5 854.1L626.0 853.7L627.5 853.2L629.0 852.5L630.5 851.7L632.0 850.9L633.5 850.0L635.0 849.1L636.5 848.3L638.0 847.4L639.5 846.7L641.0 845.9L642.5 845.2L644.0 844.5L645.5 843.8L647.0 843.0L648.5 842.3L650.0 841.5L651.5 840.7L653.0 840.0L654.5 839.2L656.0 838.4L657.5 837.7L659.0 836.9L660.5 836.2L662.0 835.4L663.5 834.6L665.0 833.9L666.5 833.1L668.0 832.4L669.5 831.7L671.0 830.9L672.5 830.2L674.0 829.4L675.5 828.7L677.0 827.9L678.5 827.2L680.0 826.4L681.5 825.6L683.0 824.9L684.5 824.1L686.0 823.4L687.5 822.6L689.0 821.9L690.5 821.2L692.0 820.4L693.5 819.7L695.0 819.0L696.5 818.3L698.0 817.7L699.5 817.1L701.0 816.5L702.5 815.9L704.0 815.3L705.5 814.7L707.0 814.0L708.5 813.3L710.0 812.6L711.5 811.9L713.0 811.2L714.5 810.5L716.0 809.8L717.5 809.1L719.0 808.4L720.5 807.7L722.0 806.9L723.5 806.2L725.0 805.4L726.5 804.7L728.0 803.9L729.5 803.2L731.0 802.4L732.5 801.6L734.0 800.8L735.5 800.0L737.0 799.3L738.5 798.5L740.0 797.7L741.5 796.9L743.0 796.0L744.5 795.2L746.0 794.4L747.5 793.6L749.0 792.7L750.5 791.9L752.0 791.1L753.5 790.2L755.0 789.3L756.5 788.5L758.0 787.6L759.5 786.7L761.0 785.8L762.5 784.9L764.0 784.0L765.5 783.1L767.0 782.1L768.5 781.2L770.0 780.3L771.5 779.4L773.0 778.6L774.5 777.7L776.0 776.8L777.5 776.0L779.0 775.1L780.5 774.3L782.0 773.5L783.5 772.7L785.0 771.8L786.5 771.0L788.0 770.2L789.5 769.4L791.0 768.6L792.5 767.8L794.0 767.0L795.5 766.2L797.0 765.4L798.5 764.6L800.0 763.8L801.5 763.0L803.0 762.2L804.5 761.3L806.0 760.5L807.5 759.6L809.0 758.7L810.5 757.9L812.0 757.1L813.5 756.4L815.0 755.7L816.5 755.1L818.0 754.5L819.5 754.1L821.0 753.6L822.5 753.3L824.0 752.9L825.5 752.6L827.0 752.3L828.5 752.0L830.0 751.8L831.5 751.6L833.0 751.4L834.5 751.2L836.0 751.0L837.5 750.8L839.0 750.7L840.5 750.7L842.0 750.9L843.5 751.2L845.0 751.5L846.5 751.9L848.0 752.3L849.5 752.7L851.0 753.2L852.5 753.6L854.0 754.1L855.5 754.5L857.0 754.9L858.5 755.3L860.0 755.7L861.5 756.2L863.0 756.6L864.5 757.0L866.0 757.5L867.5 758.0L869.0 758.5L870.5 759.0L872.0 759.6L873.5 760.1L875.0 760.7L876.5 761.4L878.0 762.2L879.5 763.0L881.0 763.9L882.5 764.8L884.0 765.7L885.5 766.7L887.0 767.6L888.5 768.6L890.0 769.5L891.5 770.4L893.0 771.3L894.5 772.3L896.0 773.3L897.5 774.2L899.0 775.2L900.5 776.2L902.0 777.3L903.5 778.4L905.0 779.5L906.5 780.6L908.0 781.6L909.5 782.5L911.0 783.3L912.5 783.9L914.0 784.5L915.5 785.0L917.0 785.5L918.5 786.0L920.0 786.4L921.5 786.9L923.0 787.3L924.5 787.6L926.0 788.0L927.5 788.2L929.0 788.5L930.5 788.6L932.0 788.8L933.5 788.9L935.0 788.9L936.5 788.8L938.0 788.6L939.5 788.4L941.0 788.1L942.5 787.8L944.0 787.4L945.5 786.9L947.0 786.5L948.5 785.9L950.0 785.4L951.5 784.8L953.0 784.2L954.5 783.6L956.0 782.9L957.5 782.2L959.0 781.4L960.5 780.4L962.0 779.4L963.5 778.3L965.0 777.0L966.5 775.6L968.0 774.1L969.5 772.5L971.0 770.9L972.5 769.2L974.0 767.3L975.5 765.3L977.0 763.1L978.5 760.7L980.0 758.3L981.5 755.8L983.0 753.4L984.5 751.2L986.0 749.1L987.5 747.2L989.0 745.4L990.5 743.6L992.0 741.8L993.5 740.1L995.0 738.5L996.5 737.1L998.0 735.9L999.5 735.0L1001.0 734.4L1002.5 733.9L1004.0 733.6L1005.5 733.4L1007.0 733.3L1008.5 733.3L1010.0 733.3L1011.5 733.3L1013.0 733.3L1014.5 733.3L1016.0 733.3L1017.5 733.3L1019.0 733.4L1020.5 733.4L1022.0 733.3L1023.5 733.3L1025.0 733.2L1026.5 733.0L1028.0 732.8L1029.5 732.6L1031.0 732.4L1032.5 732.0L1034.0 731.5L1035.5 730.9L1037.0 730.1L1038.5 728.9L1040.0 727.6L1041.5 726.1L1043.0 724.4L1044.5 722.7L1046.0 721.0L1047.5 719.2L1049.0 717.5L1050.5 715.9L1052.0 714.3L1053.5 712.6L1055.0 710.9L1056.5 709.2L1058.0 707.5L1059.5 705.7L1061.0 703.9L1062.5 702.2L1064.0 700.4L1065.5 698.7L1067.0 697.0L1068.5 695.2L1070.0 693.4L1071.5 691.7L1073.0 690.1L1074.5 688.5L1076.0 687.0L1077.5 685.7L1079.0 684.5L1080.5 683.4L1082.0 682.3L1083.5 681.2L1085.0 680.2L1086.5 679.3L1088.0 678.4L1089.5 677.5L1091.0 676.7L1092.5 675.9L1094.0 675.1L1095.5 674.3L1097.0 673.6L1098.5 672.9L1100.0 672.2L1101.5 671.6L1103.0 671.0L1104.5 670.4L1106.0 669.8L1107.5 669.2L1109.0 668.7L1110.5 668.1L1112.0 667.6L1113.5 667.1L1115.0 666.6L1116.5 666.2L1118.0 665.7L1119.5 665.3L1121.0 664.8L1122.5 664.2L1124.0 663.6L1125.5 663.0L1127.0 662.3L1128.5 661.6L1130.0 660.9L1131.5 660.1L1133.0 659.3L1134.5 658.5L1136.0 657.6L1137.5 656.7L1139.0 655.7L1140.5 654.6L1142.0 653.5L1143.5 652.3L1145.0 651.0L1146.5 649.6L1148.0 648.2L1149.5 646.8L1151.0 645.2L1152.5 643.6L1154.0 641.9L1155.5 640.1L1157.0 638.3L1158.5 636.5L1160.0 634.7L1161.5 632.9L1163.0 631.2L1164.5 629.5L1166.0 627.8L1167.5 626.1L1169.0 624.4L1170.5 622.7L1172.0 621.0L1173.5 619.3L1175.0 617.7L1176.5 616.1L1178.0 614.6L1179.5 613.1L1181.0 611.7L1182.5 610.3L1184.0 608.9L1185.5 607.6L1187.0 606.3L1188.5 605.2L1190.0 604.3L1191.5 603.4L1193.0 602.6L1194.5 601.8L1196.0 601.1L1197.5 600.6L1199.0 600.4L1200.5 600.6L1202.0 600.9L1203.5 601.5L1205.0 602.2L1206.5 603.0L1208.0 603.8L1209.5 604.7L1211.0 605.9L1212.5 607.3L1214.0 608.9L1215.5 610.6L1217.0 612.4L1218.5 614.2L1220.0 615.9L1221.5 617.7L1223.0 619.5L1224.5 621.3L1226.0 623.3L1227.5 625.4L1229.0 627.7L1230.5 630.1L1232.0 632.6L1233.5 635.3L1235.0 638.0L1236.5 640.6L1238.0 643.3L1239.5 645.8L1241.0 648.4L1242.5 650.9L1244.0 653.5L1245.5 656.1L1247.0 658.6L1248.5 661.1L1250.0 663.5L1251.5 665.9L1253.0 668.1L1254.5 670.3L1256.0 672.5L1257.5 674.6L1259.0 676.7L1260.5 678.6L1262.0 680.5L1263.5 682.2L1265.0 683.8L1266.5 685.3L1268.0 686.7L1269.5 688.0L1271.0 689.3L1272.5 690.6L1274.0 691.7L1275.5 692.8L1277.0 693.8L1278.5 694.6L1280.0 695.4L1281.5 696.1L1283.0 696.7L1284.5 697.3L1286.0 697.7L1287.5 698.2L1289.0 698.6L1290.5 699.0L1292.0 699.4L1293.5 699.8L1295.0 700.2L1296.5 700.6L1298.0 701.1L1299.5 701.6L1301.0 702.6L1302.5 703.8L1304.0 705.1L1305.5 706.3L1307.0 707.5L1308.5 708.8L1310.0 710.0L1311.5 711.3L1313.0 712.6L1314.5 714.0L1316.0 715.5L1317.5 717.0L1319.0 718.6L1320.5 720.5L1322.0 722.5L1323.5 724.8L1325.0 727.1L1326.5 729.6L1328.0 732.2L1329.5 734.9L1331.0 737.7L1332.5 741.0L1334.0 744.5L1335.5 748.2L1337.0 751.9L1338.5 755.5L1340.0 758.9L1341.5 762.3L1343.0 765.7L1344.5 769.3L1346.0 772.9L1347.5 776.7L1349.0 780.8L1350.5 785.2L1352.0 789.8L1353.5 794.4L1355.0 799.2L1356.5 803.9L1358.0 808.6L1359.5 813.1L1361.0 817.5L1362.5 821.8L1364.0 826.1L1365.5 830.4L1367.0 834.7L1368.5 839.1L1370.0 843.5L1371.5 847.9L1373.0 852.4L1374.5 857.0L1376.0 861.6L1377.5 866.3L1379.0 871.2L1380.5 876.1L1382.0 881.1L1383.5 886.2L1385.0 891.3L1386.5 896.4L1388.0 901.5L1389.5 906.5L1391.0 911.6L1392.5 916.8L1394.0 922.2L1395.5 927.5L1397.0 932.9L1398.5 938.3L1400.0 943.8L1401.5 949.2L1403.0 954.6L1404.5 960.0L1406.0 965.2L1407.5 970.2L1409.0 975.1L1410.5 980.0L1412.0 984.8L1413.5 989.5L1415.0 994.2L1416.5 998.8L1418.0 1003.5L1419.5 1008.1L1421.0 1012.7L1422.5 1017.3L1424.0 1021.9L1425.5 1026.4L1427.0 1031.0L1428.5 1035.5L1430.0 1039.9L1431.5 1044.4L1433.0 1048.8L1434.5 1053.2L1436.0 1057.6L1437.5 1062.0L1439.0 1066.4L1440.5 1070.7L1442.0 1075.0L1443.5 1079.3L1445.0 1083.5L1446.5 1087.6L1448.0 1091.7L1449.5 1095.6L1451.0 1099.5L1452.5 1103.3L1454.0 1107.1L1455.5 1110.8L1457.0 1114.5L1458.5 1118.0L1460.0 1121.5L1461.5 1125.0L1463.0 1128.3L1464.5 1131.5L1466.0 1134.7L1467.5 1137.7L1469.0 1140.8L1470.5 1143.7L1472.0 1146.7L1473.5 1149.6L1475.0 1152.4L1476.5 1155.2L1478.0 1158.0L1479.5 1160.7L1481.0 1163.4L1482.5 1166.1L1484.0 1168.7L1485.5 1171.4L1487.0 1174.0L1488.5 1176.6L1490.0 1179.1L1491.5 1181.7L1493.0 1184.2L1494.5 1186.8L1496.0 1189.3L1497.5 1191.7L1499.0 1194.2L1500.5 1196.5L1502.0 1198.9L1503.5 1201.2L1505.0 1203.5L1506.5 1205.9L1508.0 1208.2L1509.5 1210.6L1511.0 1213.0L1512.5 1215.4L1514.0 1217.8L1515.5 1220.2L1517.0 1222.7L1518.5 1225.1L1520.0 1227.5L1521.5 1229.9L1523.0 1232.3L1524.5 1234.6L1526.0 1236.9L1527.5 1239.2L1529.0 1241.4L1530.5 1243.5L1532.0 1245.6L1533.5 1247.6L1535.0 1249.5L1536.5 1251.3L1538.0 1253.1L1539.5 1254.8L1541.0 1256.5L1542.5 1258.2L1544.0 1259.8L1545.5 1261.4L1547.0 1263.0L1548.5 1264.5L1550.0 1266.0L1551.5 1267.5L1553.0 1268.9L1554.5 1270.3L1556.0 1271.7L1557.5 1273.1L1559.0 1274.4L1560.5 1275.7L1562.0 1277.0L1563.5 1278.3L1565.0 1279.6L1566.5 1280.8L1568.0 1282.1L1569.5 1283.3L1571.0 1284.5L1572.5 1285.7L1574.0 1286.9L1575.5 1288.0L1577.0 1289.1L1578.5 1290.1L1580.0 1291.2L1581.5 1292.2L1583.0 1293.1L1584.5 1294.0L1586.0 1294.9L1587.5 1295.7L1589.0 1296.4L1590.5 1297.2L1592.0 1297.9L1593.5 1298.6L1595.0 1299.3L1596.5 1299.9L1598.0 1300.6L1599.5 1301.3L1601.0 1301.9L1602.5 1302.6L1604.0 1303.2L1605.5 1303.9L1607.0 1304.5L1608.5 1305.2L1610.0 1305.9L1611.5 1306.6L1613.0 1307.2L1614.5 1307.9L1616.0 1308.6L1617.5 1309.3L1619.0 1309.9L1620.5 1310.6L1622.0 1311.3L1623.5 1312.0L1625.0 1312.6L1626.5 1313.3L1628.0 1314.0L1629.5 1314.7L1631.0 1315.5L1632.5 1316.2L1634.0 1316.9L1635.5 1317.7L1637.0 1318.5L1638.5 1319.2L1640.0 1320.0L1641.5 1320.7L1643.0 1321.4L1644.5 1322.1L1646.0 1322.8L1647.5 1323.5L1649.0 1324.2L1650.5 1324.9L1652.0 1325.6L1653.5 1326.3L1655.0 1327.0L1656.5 1327.7L1658.0 1328.4L1659.5 1329.1L1661.0 1329.8L1662.5 1330.5L1664.0 1331.2L1665.5 1331.9L1667.0 1332.6L1668.5 1333.3L1670.0 1334.0L1671.5 1334.8L1673.0 1335.5L1674.5 1336.2L1676.0 1336.8L1677.5 1337.5L1679.0 1338.2L1680.5 1339.0L1682.0 1339.7L1683.5 1340.4"/>
<path stroke="#0000ff" d="M296.0 397.5L297.5 397.0L299.0 396.6L300.5 396.1L302.0 395.6L303.5 395.2L305.0 394.7L306.5 394.3L308.0 393.8L309.5 393.5L311.0 393.1L312.5 392.7L314.0 392.2L315.5 391.5L317.0 390.8L318.5 390.0L320.0 389.1L321.5 388.2L323.0 387.2L324.5 386.2L326.0 385.1L327.5 384.0L329.0 382.8L330.5 381.6L332.0 380.4L333.5 379.2L335.0 377.9L336.5 376.5L338.0 375.1L339.5 373.7L341.0 372.2L342.5 370.7L344.0 369.3L345.5 367.8L347.0 366.2L348.5 364.7L350.0 363.2L351.5 361.6L353.0 360.1L354.5 358.7L356.0 357.3L357.5 355.9L359.0 354.6L360.5 353.2L362.0 351.9L363.5 350.7L365.0 349.5L366.5 348.4L368.0 347.3L369.5 346.4L371.0 345.4L372.5 344.6L374.0 344.0L375.5 343.5L377.0 343.3L378.5 343.7L380.0 344.7L381.5 346.3L383.0 348.1L384.5 350.2L386.0 352.8L387.5 355.6L389.0 358.6L390.5 361.8L392.0 365.6L393.5 369.9L395.0 375.0L396.5 382.0L398.0 390.5L399.5 399.5L401.0 408.9L402.5 418.6L404.0 428.0L405.5 436.7L407.0 445.1L408.5 453.5L410.0 462.4L411.5 471.6L413.0 481.1L414.5 490.5L416.0 499.7L417.5 508.6L419.0 517.2L420.5 525.5L422.0 533.5L423.5 541.2L425.0 548.8L426.5 556.3L428.0 563.2L429.5 569.4L431.0 574.9L432.5 579.9L434.0 584.6L435.5 589.0L437.0 593.3L438.5 597.4L440.0 601.4L441.5 605.4L443.0 609.3L444.5 613.2L446.0 617.0L447.5 620.8L449.0 624.5L450.5 628.1L452.0 631.6L453.5 635.1L455.0 638.5L456.5 641.8L458.0 645.1L459.5 648.4L461.0 651.5L462.5 654.7L464.0 657.7L465.5 660.8L467.0 663.8L468.5 666.7L470.0 669.6L471.5 672.5L473.0 675.3L474.5 678.0L476.0 680.8L477.5 683.5L479.0 686.2L480.5 688.8L482.0 691.5L483.5 694.1L485.0 696.7L486.5 699.2L488.0 701.7L489.5 704.2L491.0 706.7L492.5 709.1L494.0 711.5L495.5 713.8L497.0 716.2L498.5 718.4L500.0 720.7L501.5 722.9L503.0 725.1L504.5 727.3L506.0 729.4L507.5 731.5L509.0 733.6L510.5 735.6L512.0 737.7L513.5 739.7L515.0 741.7L516.5 743.6L518.0 745.6L519.5 747.5L521.0 749.5L522.5 751.4L524.0 753.3L525.5 755.2L527.0 757.0L528.5 758.9L530.0 760.8L531.5 762.6L533.0 764.5L534.5 766.4L536.0 768.2L537.5 770.0L539.0 771.9L540.5 773.7L542.0 775.5L543.5 777.3L545.0 779.1L546.5 780.9L548.0 782.7L549.5 784.4L551.0 786.1L552.5 787.9L554.0 789.6L555.5 791.3L557.0 792.9L558.5 794.6L560.0 796.2L561.5 797.8L563.0 799.4L564.5 801.0L566.0 802.5L567.5 804.0L569.0 805.5L570.5 806.9L572.0 808.3L573.5 809.7L575.0 811.0L576.5 812.3L578.0 813.7L579.5 815.0L581.0 816.3L582.5 817.5L584.0 818.8L585.5 820.0L587.0 821.3L588.5 822.4L590.0 823.6L591.5 824.6L593.0 825.7L594.5 826.7L596.0 827.6L597.5 828.4L599.0 829.3L600.5 830.1L602.0 830.9L603.5 831.7L605.0 832.4L606.5 833.1L608.0 833.8L609.5 834.4L611.0 835.0L612.5 835.5L614.0 836.0L615.5 836.4L617.0 836.7L618.5 837.1L620.0 837.4L621.5 837.6L623.0 837.9L624.5 837.9L626.0 837.9L627.5 837.7L629.0 837.4L630.5 837.0L632.0 836.6L633.5 836.1L635.0 835.6L636.5 835.1L638.0 834.6L639.5 834.2L641.0 833.9L642.5 833.5L644.0 833.1L645.5 832.7L647.0 832.3L648.5 831.9L650.0 831.5L651.5 831.1L653.0 830.7L654.5 830.3L656.0 829.9L657.5 829.5L659.0 829.0L660.5 828.6L662.0 828.2L663.5 827.8L665.0 827.4L666.5 827.0L668.0 826.6L669.5 826.2L671.0 825.7L672.5 825.3L674.0 824.9L675.5 824.5L677.0 824.0L678.5 823.6L680.0 823.1L681.5 822.7L683.0 822.2L684.5 821.8L686.0 821.3L687.5 820.9L689.0 820.5L690.5 820.1L692.0 819.7L693.5 819.3L695.0 819.0L696.5 818.7L698.0 818.5L699.5 818.3L701.0 818.2L702.5 818.1L704.0 817.9L705.5 817.6L707.0 817.4L708.5 817.1L710.0 816.8L711.5 816.6L713.0 816.3L714.5 816.0L716.0 815.7L717.5 815.4L719.0 815.1L720.5 814.7L722.0 814.4L723.5 814.1L725.0 813.7L726.5 813.3L728.0 812.9L729.5 812.5L731.0 812.1L732.5 811.7L734.0 811.3L735.5 810.9L737.0 810.4L738.5 810.0L740.0 809.5L741.5 809.1L743.0 808.6L744.5 808.1L746.0 807.6L747.5 807.2L749.0 806.6L750.5 806.1L752.0 805.6L753.5 805.1L755.0 804.6L756.5 804.0L758.0 803.4L759.5 802.9L761.0 802.3L762.5 801.7L764.0 801.1L765.5 800.5L767.0 799.8L768.5 799.2L770.0 798.6L771.5 798.0L773.0 797.4L774.5 796.8L776.0 796.2L777.5 795.6L779.0 795.1L780.5 794.5L782.0 793.9L783.5 793.3L785.0 792.7L786.5 792.2L788.0 791.6L789.5 791.0L791.0 790.4L792.5 789.9L794.0 789.3L795.5 788.7L797.0 788.2L798.5 787.6L800.0 787.0L801.5 786.5L803.0 785.9L804.5 785.2L806.0 784.6L807.5 784.0L809.0 783.4L810.5 782.8L812.0 782.3L813.5 781.7L815.0 781.2L816.5 780.8L818.0 780.4L819.5 780.1L821.0 779.9L822.5 779.6L824.0 779.4L825.5 779.3L827.0 779.1L828.5 779.0L830.0 778.9L831.5 778.8L833.0 778.7L834.5 778.7L836.0 778.7L837.5 778.6L839.0 778.6L840.5 778.8L842.0 779.0L843.5 779.4L845.0 779.7L846.5 780.1L848.0 780.6L849.5 781.0L851.0 781.5L852.5 781.9L854.0 782.3L855.5 782.7L857.0 783.1L858.5 783.5L860.0 783.9L861.5 784.3L863.0 784.7L864.5 785.1L866.0 785.5L867.5 785.9L869.0 786.4L870.5 786.8L872.0 787.3L873.5 787.8L875.0 788.3L876.5 788.9L878.0 789.6L879.5 790.3L881.0 791.1L882.5 791.9L884.0 792.8L885.5 793.7L887.0 794.5L888.5 795.4L890.0 796.2L891.5 797.1L893.0 798.0L894.5 798.9L896.0 799.8L897.5 800.8L899.0 801.7L900.5 802.7L902.0 803.7L903.5 804.8L905.0 805.8L906.5 806.8L908.0 807.7L909.5 808.6L911.0 809.4L912.5 810.0L914.0 810.6L915.5 811.1L917.0 811.6L918.5 812.1L920.0 812.5L921.5 813.0L923.0 813.4L924.5 813.7L926.0 814.1L927.5 814.3L929.0 814.6L930.5 814.8L932.0 814.9L933.5 815.1L935.0 815.1L936.5 815.1L938.0 815.0L939.5 814.9L941.0 814.7L942.5 814.5L944.0 814.2L945.5 813.8L947.0 813.5L948.5 813.0L950.0 812.6L951.5 812.1L953.0 811.6L954.5 811.1L956.0 810.6L957.5 810.0L959.0 809.3L960.5 808.5L962.0 807.7L963.5 806.8L965.0 805.6L966.5 804.4L968.0 803.0L969.5 801.5L971.0 799.9L972.5 798.3L974.0 796.5L975.5 794.7L977.0 792.6L978.5 790.3L980.0 787.8L981.5 785.4L983.0 783.0L984.5 780.8L986.0 778.8L987.5 776.9L989.0 775.2L990.5 773.4L992.0 771.6L993.5 770.0L995.0 768.5L996.5 767.2L998.0 766.1L999.5 765.3L1001.0 764.8L1002.5 764.5L1004.0 764.5L1005.5 764.6L1007.0 764.7L1008.5 765.0L1010.0 765.3L1011.5 765.5L1013.0 765.8L1014.5 766.0L1016.0 766.3L1017.5 766.7L1019.0 767.0L1020.5 767.3L1022.0 767.5L1023.5 767.7L1025.0 767.8L1026.5 767.8L1028.0 767.9L1029.5 767.9L1031.0 767.8L1032.5 767.6L1034.0 767.4L1035.5 767.0L1037.0 766.3L1038.5 765.4L1040.0 764.4L1041.5 763.2L1043.0 761.9L1044.5 760.5L1046.0 759.1L1047.5 757.7L1049.0 756.3L1050.5 755.0L1052.0 753.6L1053.5 752.3L1055.0 750.9L1056.5 749.5L1058.0 748.0L1059.5 746.5L1061.0 745.0L1062.5 743.5L1064.0 742.0L1065.5 740.5L1067.0 739.0L1068.5 737.5L1070.0 735.9L1071.5 734.5L1073.0 733.0L1074.5 731.6L1076.0 730.3L1077.5 729.2L1079.0 728.1L1080.5 727.0L1082.0 726.0L1083.5 725.0L1085.0 724.1L1086.5 723.2L1088.0 722.4L1089.5 721.6L1091.0 720.8L1092.5 720.1L1094.0 719.4L1095.5 718.7L1097.0 718.0L1098.5 717.3L1100.0 716.7L1101.5 716.1L1103.0 715.5L1104.5 715.0L1106.0 714.4L1107.5 713.9L1109.0 713.4L1110.5 712.9L1112.0 712.4L1113.5 711.9L1115.0 711.5L1116.5 711.1L1118.0 710.7L1119.5 710.3L1121.0 709.8L1122.5 709.4L1124.0 708.8L1125.5 708.3L1127.0 707.7L1128.5 707.1L1130.0 706.5L1131.5 705.8L1133.0 705.0L1134.5 704.3L1136.0 703.5L1137.5 702.6L1139.0 701.7L1140.5 700.8L1142.0 699.8L1143.5 698.7L1145.0 697.5L1146.5 696.3L1148.0 695.0L1149.5 693.7L1151.0 692.3L1152.5 690.8L1154.0 689.3L1155.5 687.7L1157.0 686.1L1158.5 684.4L1160.0 682.8L1161.5 681.1L1163.0 679.6L1164.5 678.0L1166.0 676.5L1167.5 675.0L1169.0 673.4L1170.5 671.9L1172.0 670.4L1173.5 668.9L1175.0 667.4L1176.5 666.0L1178.0 664.6L1179.5 663.3L1181.0 662.1L1182.5 660.8L1184.0 659.5L1185.5 658.4L1187.0 657.3L1188.5 656.3L1190.0 655.6L1191.5 654.9L1193.0 654.1L1194.5 653.5L1196.0 653.0L1197.5 652.6L1199.0 652.5L1200.5 652.7L1202.0 653.0L1203.5 653.6L1205.0 654.3L1206.5 655.1L1208.0 655.9L1209.5 656.8L1211.0 657.9L1212.5 659.2L1214.0 660.7L1215.5 662.3L1217.0 664.0L1218.5 665.7L1220.0 667.4L1221.5 669.1L1223.0 670.8L1224.5 672.7L1226.0 674.6L1227.5 676.6L1229.0 678.8L1230.5 681.1L1232.0 683.5L1233.5 685.9L1235.0 688.4L1236.5 690.9L1238.0 693.3L1239.5 695.6L1241.0 697.9L1242.5 700.3L1244.0 702.7L1245.5 705.0L1247.0 707.3L1248.5 709.6L1250.0 711.8L1251.5 714.0L1253.0 716.0L1254.5 718.0L1256.0 720.0L1257.5 721.9L1259.0 723.8L1260.5 725.6L1262.0 727.3L1263.5 728.9L1265.0 730.3L1266.5 731.7L1268.0 733.0L1269.5 734.3L1271.0 735.5L1272.5 736.6L1274.0 737.7L1275.5 738.6L1277.0 739.5L1278.5 740.4L1280.0 741.1L1281.5 742.1L1283.0 743.1L1284.5 744.0L1286.0 744.9L1287.5 745.7L1289.0 746.5L1290.5 747.3L1292.0 748.1L1293.5 749.0L1295.0 749.8L1296.5 750.7L1298.0 751.6L1299.5 752.6L1301.0 753.6L1302.5 754.6L1304.0 755.6L1305.5 756.6L1307.0 757.7L1308.5 758.8L1310.0 759.9L1311.5 761.0L1313.0 762.2L1314.5 763.5L1316.0 764.8L1317.5 766.2L1319.0 767.6L1320.5 769.3L1322.0 771.0L1323.5 772.9L1325.0 774.9L1326.5 777.1L1328.0 779.3L1329.5 781.6L1331.0 784.0L1332.5 786.8L1334.0 789.8L1335.5 793.0L1337.0 796.3L1338.5 799.4L1340.0 802.5L1341.5 805.5L1343.0 808.6L1344.5 811.8L1346.0 815.1L1347.5 818.7L1349.0 822.6L1350.5 826.8L1352.0 831.2L1353.5 835.9L1355.0 840.6L1356.5 845.4L1358.0 849.9L1359.5 854.1L1361.0 858.0L1362.5 861.7L1364.0 865.2L1365.5 868.7L1367.0 872.2L1368.5 875.8L1370.0 879.7L1371.5 883.7L1373.0 887.7L1374.5 891.9L1376.0 896.0L1377.5 900.2L1379.0 904.5L1380.5 908.8L1382.0 913.1L1383.5 918.2L1385.0 923.3L1386.5 928.4L1388.0 933.5L1389.5 938.5L1391.0 943.5L1392.5 948.6L1394.0 953.6L1395.5 958.6L1397.0 963.6L1398.5 968.6L1400.0 973.7L1401.5 978.7L1403.0 983.7L1404.5 988.6L1406.0 993.4L1407.5 998.1L1409.0 1002.7L1410.5 1007.2L1412.0 1011.6L1413.5 1016.0L1415.0 1020.4L1416.5 1024.7L1418.0 1029.0L1419.5 1033.3L1421.0 1037.6L1422.5 1041.8L1424.0 1046.1L1425.5 1050.3L1427.0 1054.5L1428.5 1058.6L1430.0 1062.7L1431.5 1066.8L1433.0 1070.9L1434.5 1074.9L1436.0 1079.0L1437.5 1083.0L1439.0 1087.0L1440.5 1090.9L1442.0 1094.9L1443.5 1098.7L1445.0 1102.6L1446.5 1106.3L1448.0 1110.0L1449.5 1113.6L1451.0 1117.1L1452.5 1120.6L1454.0 1124.1L1455.5 1127.5L1457.0 1130.8L1458.5 1134.1L1460.0 1137.3L1461.5 1140.5L1463.0 1143.5L1464.5 1146.5L1466.0 1149.4L1467.5 1152.3L1469.0 1155.1L1470.5 1157.9L1472.0 1160.6L1473.5 1163.3L1475.0 1165.9L1476.5 1168.6L1478.0 1171.1L1479.5 1173.7L1481.0 1176.2L1482.5 1178.8L1484.0 1181.2L1485.5 1183.7L1487.0 1186.1L1488.5 1188.6L1490.0 1191.0L1491.5 1193.4L1493.0 1195.7L1494.5 1198.1L1496.0 1200.5L1497.5 1202.8L1499.0 1205.0L1500.5 1207.2L1502.0 1209.4L1503.5 1211.6L1505.0 1213.8L1506.5 1215.9L1508.0 1218.1L1509.5 1220.3L1511.0 1222.5L1512.5 1224.7L1514.0 1226.9L1515.5 1229.1L1517.0 1231.3L1518.5 1233.5L1520.0 1235.6L1521.5 1237.8L1523.0 1239.9L1524.5 1242.0L1526.0 1244.1L1527.5 1246.1L1529.0 1248.1L1530.5 1250.1L1532.0 1251.9L1533.5 1253.7L1535.0 1255.5L1536.5 1257.1L1538.0 1258.8L1539.5 1260.4L1541.0 1261.9L1542.5 1263.5L1544.0 1264.9L1545.5 1266.4L1547.0 1267.8L1548.5 1269.2L1550.0 1270.6L1551.5 1271.9L1553.0 1273.2L1554.5 1274.5L1556.0 1275.8L1557.5 1277.1L1559.0 1278.3L1560.5 1279.5L1562.0 1280.7L1563.5 1281.9L1565.0 1283.1L1566.5 1284.2L1568.0 1285.3L1569.5 1286.5L1571.0 1287.6L1572.5 1288.6L1574.0 1289.7L1575.5 1290.7L1577.0 1291.7L1578.5 1292.7L1580.0 1293.6L1581.5 1294.5L1583.0 1295.4L1584.5 1296.2L1586.0 1297.0L1587.5 1297.7L1589.0 1298.4L1590.5 1299.0L1592.0 1299.7L1593.5 1300.3L1595.0 1300.9L1596.5 1301.5L1598.0 1302.1L1599.5 1302.8L1601.0 1303.4L1602.5 1304.0L1604.0 1304.6L1605.5 1305.3L1607.0 1305.9L1608.5 1306.6L1610.0 1307.3L1611.5 1308.0L1613.0 1308.7L1614.5 1309.4L1616.0 1310.2L1617.5 1310.9L1619.0 1311.6L1620.5 1312.4L1622.0 1313.1L1623.5 1313.9L1625.0 1314.7L1626.5 1315.5L1628.0 1316.3L1629.5 1317.1L1631.0 1318.0L1632.5 1318.8L1634.0 1319.7L1635.5 1320.6L1637.0 1321.5L1638.5 1322.4L1640.0 1323.3L1641.5 1324.1L1643.0 1324.9L1644.5 1325.7L1646.0 1326.4L1647.5 1327.2L1649.0 1328.0L1650.5 1328.8L1652.0 1329.5L1653.5 1330.3L1655.0 1331.1L1656.5 1331.9L1658.0 1332.7L1659.5 1333.5L1661.0 1334.2L1662.5 1335.0L1664.0 1335.8L1665.5 1336.6L1667.0 1337.4L1668.5 1338.2L1670.0 1339.0L1671.5 1339.8L1673.0 1340.5"/>
<path stroke="#00ffff" d="M296.0 371.2L297.5 369.8L299.0 368.4L300.5 367.0L302.0 365.6L303.5 364.2L305.0 362.7L306.5 361.3L308.0 359.9L309.5 358.6L311.0 357.3L312.5 355.9L314.0 354.4L315.5 352.8L317.0 351.2L318.5 349.5L320.0 347.8L321.5 346.0L323.0 344.1L324.5 342.2L326.0 340.3L327.5 338.4L329.0 336.4L330.5 334.4L332.0 332.4L333.5 330.3L335.0 328.2L336.5 326.1L338.0 323.9L339.5 321.7L341.0 319.5L342.5 317.3L344.0 315.1L345.5 312.9L347.0 310.6L348.5 308.3L350.0 306.0L351.5 303.8L353.0 301.5L354.5 299.3L356.0 297.2L357.5 295.2L359.0 293.1L360.5 291.1L362.0 289.1L363.5 287.2L365.0 285.3L366.5 283.6L368.0 281.9L369.5 280.4L371.0 278.9L372.5 277.5L374.0 276.4L375.5 275.4L377.0 274.8L378.5 274.9L380.0 275.8L381.5 277.3L383.0 279.1L384.5 281.4L386.0 284.2L387.5 287.4L389.0 290.7L390.5 294.3L392.0 298.3L393.5 303.1L395.0 308.8L396.5 316.8L398.0 326.7L399.5 337.1L401.0 347.9L402.5 359.2L404.0 370.0L405.5 379.9L407.0 389.3L408.5 398.9L410.0 409.2L411.5 419.9L413.0 430.9L414.5 441.9L416.0 452.7L417.5 463.0L419.0 473.1L420.5 482.9L422.0 492.3L423.5 501.3L425.0 510.4L426.5 519.1L428.0 527.2L429.5 534.3L431.0 540.3L432.5 545.8L434.0 550.8L435.5 555.5L437.0 560.0L438.5 564.2L440.0 568.4L441.5 572.6L443.0 576.8L444.5 580.9L446.0 584.9L447.5 588.9L449.0 592.7L450.5 596.5L452.0 600.2L453.5 603.8L455.0 607.4L456.5 610.8L458.0 614.1L459.5 617.4L461.0 620.6L462.5 623.8L464.0 626.9L465.5 629.9L467.0 632.9L468.5 635.8L470.0 638.7L471.5 641.5L473.0 644.3L474.5 647.0L476.0 649.8L477.5 652.4L479.0 655.1L480.5 657.7L482.0 660.3L483.5 662.8L485.0 665.3L486.5 667.8L488.0 670.2L489.5 672.6L491.0 675.0L492.5 677.4L494.0 679.7L495.5 682.0L497.0 684.3L498.5 686.5L500.0 688.8L501.5 691.0L503.0 693.2L504.5 695.4L506.0 697.5L507.5 699.6L509.0 701.8L510.5 703.9L512.0 705.9L513.5 708.0L515.0 710.0L516.5 712.1L518.0 714.1L519.5 716.1L521.0 718.1L522.5 720.1L524.0 722.0L525.5 724.0L527.0 726.0L528.5 727.9L530.0 729.9L531.5 731.9L533.0 733.8L534.5 735.8L536.0 737.7L537.5 739.7L539.0 741.6L540.5 743.6L542.0 745.5L543.5 747.4L545.0 749.3L546.5 751.1L548.0 753.0L549.5 754.8L551.0 756.7L552.5 758.4L554.0 760.2L555.5 762.0L557.0 763.7L558.5 765.4L560.0 767.1L561.5 768.8L563.0 770.4L564.5 772.0L566.0 773.6L567.5 775.2L569.0 776.8L570.5 778.3L572.0 779.8L573.5 781.3L575.0 782.7L576.5 784.1L578.0 785.6L579.5 787.0L581.0 788.4L582.5 789.8L584.0 791.2L585.5 792.5L587.0 793.9L588.5 795.2L590.0 796.5L591.5 797.7L593.0 798.9L594.5 800.1L596.0 801.2L597.5 802.3L599.0 803.4L600.5 804.4L602.0 805.4L603.5 806.4L605.0 807.4L606.5 808.3L608.0 809.2L609.5 810.1L611.0 811.0L612.5 811.7L614.0 812.5L615.5 813.2L617.0 813.9L618.5 814.5L620.0 815.1L621.5 815.7L623.0 816.3L624.5 816.8L626.0 817.1L627.5 817.4L629.0 817.6L630.5 817.8L632.0 817.9L633.5 818.0L635.0 818.0L636.5 818.1L638.0 818.2L639.5 818.3L641.0 818.4L642.5 818.4L644.0 818.5L645.5 818.6L647.0 818.6L648.5 818.7L650.0 818.7L651.5 818.7L653.0 818.8L654.5 818.8L656.0 818.8L657.5 818.9L659.0 818.9L660.5 818.9L662.0 818.9L663.5 818.9L665.0 819.0L666.5 819.0L668.0 819.0L669.5 819.0L671.0 819.0L672.5 819.0L674.0 819.0L675.5 819.0L677.0 818.9L678.5 818.9L680.0 818.8L681.5 818.8L683.0 818.7L684.5 818.7L686.0 818.7L687.5 818.7L689.0 818.7L690.5 818.7L692.0 818.8L693.5 818.9L695.0 819.0L696.5 819.2L698.0 819.6L699.5 820.0L701.0 820.4L702.5 820.8L704.0 821.2L705.5 821.6L707.0 821.8L708.5 822.1L710.0 822.4L711.5 822.7L713.0 823.0L714.5 823.2L716.0 823.5L717.5 823.7L719.0 824.0L720.5 824.2L722.0 824.4L723.5 824.6L725.0 824.8L726.5 824.9L728.0 825.1L729.5 825.2L731.0 825.3L732.5 825.4L734.0 825.5L735.5 825.6L737.0 825.6L738.5 825.7L740.0 825.7L741.5 825.8L743.0 825.8L744.5 825.8L746.0 825.8L747.5 825.8L749.0 825.8L750.5 825.8L752.0 825.8L753.5 825.7L755.0 825.6L756.5 825.6L758.0 825.5L759.5 825.4L761.0 825.3L762.5 825.1L764.0 825.0L765.5 824.9L767.0 824.7L768.5 824.6L770.0 824.4L771.5 824.2L773.0 824.1L774.5 823.9L776.0 823.8L777.5 823.6L779.0 823.5L780.5 823.4L782.0 823.4L783.5 823.3L785.0 823.2L786.5 823.2L788.0 823.1L789.5 823.1L791.0 823.0L792.5 823.0L794.0 822.9L795.5 822.8L797.0 822.7L798.5 822.6L800.0 822.4L801.5 822.2L803.0 822.0L804.5 821.8L806.0 821.6L807.5 821.4L809.0 821.2L810.5 821.0L812.0 820.8L813.5 820.6L815.0 820.5L816.5 820.4L818.0 820.3L819.5 820.3L821.0 820.3L822.5 820.3L824.0 820.4L825.5 820.4L827.0 820.5L828.5 820.6L830.0 820.7L831.5 820.9L833.0 821.0L834.5 821.2L836.0 821.4L837.5 821.6L839.0 821.8L840.5 822.2L842.0 822.6L843.5 823.0L845.0 823.5L846.5 824.0L848.0 824.5L849.5 825.0L851.0 825.5L852.5 826.0L854.0 826.5L855.5 826.9L857.0 827.3L858.5 827.7L860.0 828.1L861.5 828.5L863.0 828.9L864.5 829.2L866.0 829.6L867.5 830.0L869.0 830.4L870.5 830.9L872.0 831.3L873.5 831.8L875.0 832.3L876.5 832.8L878.0 833.4L879.5 834.0L881.0 834.7L882.5 835.4L884.0 836.2L885.5 837.0L887.0 837.8L888.5 838.7L890.0 839.5L891.5 840.3L893.0 841.2L894.5 842.1L896.0 843.0L897.5 844.0L899.0 844.9L900.5 845.9L902.0 846.9L903.5 847.9L905.0 848.9L906.5 849.8L908.0 850.7L909.5 851.5L911.0 852.3L912.5 853.0L914.0 853.6L915.5 854.2L917.0 854.8L918.5 855.3L920.0 855.8L921.5 856.3L923.0 856.8L924.5 857.2L926.0 857.6L927.5 857.9L929.0 858.2L930.5 858.5L932.0 858.7L933.5 858.8L935.0 859.0L936.5 859.0L938.0 859.1L939.5 859.1L941.0 859.0L942.5 858.9L944.0 858.7L945.5 858.5L947.0 858.3L948.5 858.0L950.0 857.7L951.5 857.3L953.0 856.9L954.5 856.6L956.0 856.1L957.5 855.7L959.0 855.1L960.5 854.5L962.0 853.8L963.5 853.1L965.0 852.1L966.5 851.0L968.0 849.6L969.5 848.2L971.0 846.6L972.5 845.0L974.0 843.3L975.5 841.6L977.0 839.5L978.5 837.2L980.0 834.7L981.5 832.2L983.0 829.7L984.5 827.4L986.0 825.3L987.5 823.4L989.0 821.6L990.5 819.8L992.0 818.0L993.5 816.3L995.0 814.7L996.5 813.4L998.0 812.3L999.5 811.6L1001.0 811.1L1002.5 811.0L1004.0 811.0L1005.5 811.2L1007.0 811.4L1008.5 811.7L1010.0 812.0L1011.5 812.3L1013.0 812.4L1014.5 812.7L1016.0 813.0L1017.5 813.3L1019.0 813.7L1020.5 814.0L1022.0 814.3L1023.5 814.5L1025.0 814.7L1026.5 814.8L1028.0 814.9L1029.5 815.1L1031.0 815.2L1032.5 815.4L1034.0 815.4L1035.5 815.3L1037.0 815.1L1038.5 814.6L1040.0 814.1L1041.5 813.4L1043.0 812.7L1044.5 812.0L1046.0 811.2L1047.5 810.5L1049.0 809.8L1050.5 809.1L1052.0 808.5L1053.5 807.8L1055.0 807.2L1056.5 806.6L1058.0 805.9L1059.5 805.2L1061.0 804.2L1062.5 803.1L1064.0 801.9L1065.5 800.7L1067.0 799.5L1068.5 798.3L1070.0 797.2L1071.5 796.0L1073.0 794.9L1074.5 793.7L1076.0 792.7L1077.5 791.7L1079.0 790.7L1080.5 789.8L1082.0 788.9L1083.5 788.0L1085.0 787.2L1086.5 786.4L1088.0 785.6L1089.5 784.9L1091.0 784.2L1092.5 783.5L1094.0 782.8L1095.5 782.2L1097.0 781.6L1098.5 781.0L1100.0 780.4L1101.5 779.8L1103.0 779.3L1104.5 778.8L1106.0 778.2L1107.5 777.8L1109.0 777.3L1110.5 776.8L1112.0 776.4L1113.5 776.0L1115.0 775.6L1116.5 775.3L1118.0 774.9L1119.5 774.5L1121.0 774.2L1122.5 773.8L1124.0 773.3L1125.5 772.9L1127.0 772.4L1128.5 771.9L1130.0 771.3L1131.5 770.7L1133.0 770.1L1134.5 769.4L1136.0 768.7L1137.5 768.0L1139.0 767.2L1140.5 766.4L1142.0 765.5L1143.5 764.5L1145.0 763.5L1146.5 762.5L1148.0 761.4L1149.5 760.3L1151.0 759.1L1152.5 757.8L1154.0 756.5L1155.5 755.1L1157.0 753.7L1158.5 752.2L1160.0 750.8L1161.5 749.4L1163.0 748.1L1164.5 746.7L1166.0 745.4L1167.5 744.1L1169.0 742.8L1170.5 741.4L1172.0 740.1L1173.5 738.8L1175.0 737.6L1176.5 736.4L1178.0 735.2L1179.5 734.1L1181.0 733.0L1182.5 732.0L1184.0 730.9L1185.5 730.0L1187.0 729.1L1188.5 728.3L1190.0 727.7L1191.5 727.2L1193.0 726.7L1194.5 726.3L1196.0 725.9L1197.5 725.7L1199.0 725.7L1200.5 725.9L1202.0 726.3L1203.5 726.9L1205.0 727.6L1206.5 728.3L1208.0 729.1L1209.5 730.0L1211.0 731.0L1212.5 732.3L1214.0 733.6L1215.5 735.1L1217.0 736.6L1218.5 738.1L1220.0 739.7L1221.5 741.3L1223.0 743.1L1224.5 744.8L1226.0 746.7L1227.5 748.6L1229.0 750.7L1230.5 752.8L1232.0 754.9L1233.5 757.1L1235.0 759.3L1236.5 761.4L1238.0 763.5L1239.5 765.6L1241.0 767.6L1242.5 769.7L1244.0 771.8L1245.5 773.8L1247.0 775.8L1248.5 777.8L1250.0 779.7L1251.5 781.6L1253.0 783.3L1254.5 785.0L1256.0 786.7L1257.5 788.3L1259.0 789.9L1260.5 791.5L1262.0 793.0L1263.5 794.4L1265.0 795.7L1266.5 796.9L1268.0 798.1L1269.5 799.2L1271.0 800.3L1272.5 801.3L1274.0 802.2L1275.5 803.1L1277.0 803.9L1278.5 804.6L1280.0 805.2L1281.5 805.8L1283.0 806.4L1284.5 806.8L1286.0 807.3L1287.5 807.7L1289.0 808.1L1290.5 808.6L1292.0 809.0L1293.5 809.4L1295.0 809.9L1296.5 810.4L1298.0 810.9L1299.5 811.4L1301.0 811.9L1302.5 812.4L1304.0 813.0L1305.5 813.5L1307.0 814.1L1308.5 814.7L1310.0 815.4L1311.5 816.1L1313.0 816.9L1314.5 817.8L1316.0 818.8L1317.5 820.0L1319.0 821.2L1320.5 822.6L1322.0 824.1L1323.5 825.8L1325.0 827.4L1326.5 829.2L1328.0 831.1L1329.5 833.1L1331.0 835.1L1332.5 837.5L1334.0 840.0L1335.5 842.6L1337.0 845.3L1338.5 847.8L1340.0 850.3L1341.5 852.8L1343.0 855.4L1344.5 858.1L1346.0 861.0L1347.5 864.2L1349.0 867.8L1350.5 871.7L1352.0 875.9L1353.5 880.3L1355.0 884.7L1356.5 889.1L1358.0 893.2L1359.5 897.2L1361.0 901.2L1362.5 905.1L1364.0 908.9L1365.5 912.9L1367.0 916.9L1368.5 921.0L1370.0 925.2L1371.5 929.6L1373.0 934.0L1374.5 938.5L1376.0 943.1L1377.5 947.6L1379.0 952.3L1380.5 956.9L1382.0 961.4L1383.5 966.0L1385.0 970.6L1386.5 975.2L1388.0 979.7L1389.5 984.2L1391.0 988.8L1392.5 993.2L1394.0 997.7L1395.5 1002.2L1397.0 1006.7L1398.5 1011.2L1400.0 1015.7L1401.5 1020.2L1403.0 1024.6L1404.5 1028.9L1406.0 1033.2L1407.5 1037.3L1409.0 1041.4L1410.5 1045.4L1412.0 1049.3L1413.5 1053.3L1415.0 1057.2L1416.5 1061.0L1418.0 1064.9L1419.5 1068.7L1421.0 1072.5L1422.5 1076.3L1424.0 1080.1L1425.5 1083.8L1427.0 1087.5L1428.5 1091.2L1430.0 1094.8L1431.5 1098.4L1433.0 1102.0L1434.5 1105.5L1436.0 1109.0L1437.5 1112.5L1439.0 1115.9L1440.5 1119.3L1442.0 1122.7L1443.5 1126.1L1445.0 1129.3L1446.5 1132.6L1448.0 1135.8L1449.5 1138.9L1451.0 1142.0L1452.5 1145.0L1454.0 1148.0L1455.5 1151.0L1457.0 1153.9L1458.5 1156.7L1460.0 1159.5L1461.5 1162.3L1463.0 1165.0L1464.5 1167.6L1466.0 1170.2L1467.5 1172.8L1469.0 1175.3L1470.5 1177.8L1472.0 1180.2L1473.5 1182.6L1475.0 1185.0L1476.5 1187.3L1478.0 1189.7L1479.5 1192.0L1481.0 1194.3L1482.5 1196.5L1484.0 1198.8L1485.5 1201.0L1487.0 1203.2L1488.5 1205.4L1490.0 1207.6L1491.5 1209.8L1493.0 1211.9L1494.5 1214.1L1496.0 1216.2L1497.5 1218.2L1499.0 1220.3L1500.5 1222.3L1502.0 1224.3L1503.5 1226.2L1505.0 1228.2L1506.5 1230.1L1508.0 1232.0L1509.5 1233.9L1511.0 1235.8L1512.5 1237.7L1514.0 1239.6L1515.5 1241.5L1517.0 1243.4L1518.5 1245.3L1520.0 1247.1L1521.5 1248.9L1523.0 1250.7L1524.5 1252.5L1526.0 1254.2L1527.5 1256.0L1529.0 1257.6L1530.5 1259.3L1532.0 1260.9L1533.5 1262.4L1535.0 1263.9L1536.5 1265.4L1538.0 1266.8L1539.5 1268.2L1541.0 1269.5L1542.5 1270.8L1544.0 1272.1L1545.5 1273.4L1547.0 1274.6L1548.5 1275.8L1550.0 1277.0L1551.5 1278.2L1553.0 1279.3L1554.5 1280.5L1556.0 1281.6L1557.5 1282.7L1559.0 1283.8L1560.5 1284.8L1562.0 1285.9L1563.5 1286.9L1565.0 1287.9L1566.5 1288.9L1568.0 1289.9L1569.5 1290.9L1571.0 1291.8L1572.5 1292.7L1574.0 1293.7L1575.5 1294.5L1577.0 1295.4L1578.5 1296.2L1580.0 1297.0L1581.5 1297.8L1583.0 1298.5L1584.5 1299.2L1586.0 1299.9L1587.5 1300.5L1589.0 1301.1L1590.5 1301.6L1592.0 1302.2L1593.5 1302.7L1595.0 1303.2L1596.5 1303.8L1598.0 1304.3L1599.5 1304.9L1601.0 1305.4L1602.5 1306.0L1604.0 1306.6L1605.5 1307.2L1607.0 1307.9L1608.5 1308.6L1610.0 1309.3L1611.5 1310.0L1613.0 1310.8L1614.5 1311.6L1616.0 1312.4L1617.5 1313.2L1619.0 1314.0L1620.5 1314.9L1622.0 1315.8L1623.5 1316.7L1625.0 1317.6L1626.5 1318.5L1628.0 1319.5L1629.5 1320.5L1631.0 1321.5L1632.5 1322.5L1634.0 1323.5L1635.5 1324.6L1637.0 1325.7L1638.5 1326.8L1640.0 1328.0L1641.5 1328.9L1643.0 1329.7L1644.5 1330.6L1646.0 1331.5L1647.5 1332.4L1649.0 1333.3L1650.5 1334.2L1652.0 1335.1L1653.5 1336.0L1655.0 1336.9L1656.5 1337.8L1658.0 1338.7L1659.5 1339.6L1661.0 1340.5"/>
<path stroke="#ff00ff" d="M296.0 359.8L297.5 358.0L299.0 356.2L300.5 354.4L302.0 352.6L303.5 350.8L305.0 349.0L306.5 347.1L308.0 345.3L309.5 343.7L311.0 342.0L312.5 340.2L314.0 338.5L315.5 336.6L317.0 334.7L318.5 332.7L320.0 330.7L321.5 328.7L323.0 326.6L324.5 324.5L326.0 322.3L327.5 320.1L329.0 318.0L330.5 315.7L332.0 313.5L333.5 311.3L335.0 309.0L336.5 306.7L338.0 304.3L339.5 302.0L341.0 299.6L342.5 297.3L344.0 294.9L345.5 292.5L347.0 290.1L348.5 287.7L350.0 285.3L351.5 282.9L353.0 280.5L354.5 278.2L356.0 276.0L357.5 273.8L359.0 271.7L360.5 269.5L362.0 267.5L363.5 265.4L365.0 263.5L366.5 261.7L368.0 260.0L369.5 258.4L371.0 256.9L372.5 255.5L374.0 254.4L375.5 253.4L377.0 252.7L378.5 252.6L380.0 253.4L381.5 254.9L383.0 256.6L384.5 258.9L386.0 261.7L387.5 265.0L389.0 268.3L390.5 272.0L392.0 276.1L393.5 280.9L395.0 286.7L396.5 295.0L398.0 305.4L399.5 316.2L401.0 327.4L402.5 339.1L404.0 350.3L405.5 360.6L407.0 370.4L408.5 380.3L410.0 391.0L411.5 402.1L413.0 413.6L414.5 425.2L416.0 436.4L417.5 447.2L419.0 457.8L420.5 468.1L422.0 477.9L423.5 487.4L425.0 496.9L426.5 506.0L428.0 514.5L429.5 521.9L431.0 528.1L432.5 533.7L434.0 538.8L435.5 543.5L437.0 548.0L438.5 552.4L440.0 556.6L441.5 560.8L443.0 565.0L444.5 569.2L446.0 573.2L447.5 577.2L449.0 581.1L450.5 585.0L452.0 588.7L453.5 592.3L455.0 595.9L456.5 599.3L458.0 602.6L459.5 605.9L461.0 609.1L462.5 612.2L464.0 615.3L465.5 618.3L467.0 621.2L468.5 624.1L470.0 627.0L471.5 629.8L473.0 632.5L474.5 635.2L476.0 637.9L477.5 640.5L479.0 643.1L480.5 645.7L482.0 648.2L483.5 650.7L485.0 653.2L486.5 655.6L488.0 658.0L489.5 660.3L491.0 662.6L492.5 664.9L494.0 667.2L495.5 669.4L497.0 671.7L498.5 673.9L500.0 676.1L501.5 678.3L503.0 680.4L504.5 682.6L506.0 684.7L507.5 686.8L509.0 688.9L510.5 691.0L512.0 693.1L513.5 695.1L515.0 697.2L516.5 699.2L518.0 701.2L519.5 703.2L521.0 705.2L522.5 707.2L524.0 709.1L525.5 711.1L527.0 713.1L528.5 715.0L530.0 717.0L531.5 719.0L533.0 721.0L534.5 722.9L536.0 724.9L537.5 726.9L539.0 728.8L540.5 730.8L542.0 732.7L543.5 734.6L545.0 736.5L546.5 738.4L548.0 740.3L549.5 742.1L551.0 743.9L552.5 745.7L554.0 747.5L555.5 749.2L557.0 751.0L558.5 752.7L560.0 754.3L561.5 756.0L563.0 757.6L564.5 759.3L566.0 760.9L567.5 762.4L569.0 764.0L570.5 765.5L572.0 767.0L573.5 768.5L575.0 770.0L576.5 771.5L578.0 772.9L579.5 774.4L581.0 775.8L582.5 777.2L584.0 778.6L585.5 780.0L587.0 781.4L588.5 782.7L590.0 784.1L591.5 785.4L593.0 786.6L594.5 787.9L596.0 789.0L597.5 790.2L599.0 791.3L600.5 792.4L602.0 793.5L603.5 794.6L605.0 795.6L606.5 796.7L608.0 797.7L609.5 798.6L611.0 799.6L612.5 800.5L614.0 801.3L615.5 802.1L617.0 802.9L618.5 803.7L620.0 804.5L621.5 805.2L623.0 805.9L624.5 806.5L626.0 807.1L627.5 807.6L629.0 808.0L630.5 808.4L632.0 808.7L633.5 809.0L635.0 809.3L636.5 809.6L638.0 809.9L639.5 810.2L641.0 810.6L642.5 810.9L644.0 811.2L645.5 811.5L647.0 811.8L648.5 812.0L650.0 812.3L651.5 812.6L653.0 812.8L654.5 813.1L656.0 813.4L657.5 813.6L659.0 813.9L660.5 814.1L662.0 814.3L663.5 814.6L665.0 814.8L666.5 815.1L668.0 815.3L669.5 815.5L671.0 815.8L672.5 816.0L674.0 816.1L675.5 816.3L677.0 816.5L678.5 816.6L680.0 816.7L681.5 816.9L683.0 817.0L684.5 817.2L686.0 817.4L687.5 817.6L689.0 817.8L690.5 818.0L692.0 818.3L693.5 818.6L695.0 819.0L696.5 819.5L698.0 820.1L699.5 820.7L701.0 821.4L702.5 822.0L704.0 822.6L705.5 823.1L707.0 823.6L708.5 824.1L710.0 824.6L711.5 825.0L713.0 825.5L714.5 825.9L716.0 826.4L717.5 826.8L719.0 827.3L720.5 827.7L722.0 828.1L723.5 828.5L725.0 828.8L726.5 829.2L728.0 829.5L729.5 829.8L731.0 830.1L732.5 830.4L734.0 830.6L735.5 830.9L737.0 831.1L738.5 831.3L740.0 831.6L741.5 831.8L743.0 832.0L744.5 832.1L746.0 832.3L747.5 832.5L749.0 832.6L750.5 832.7L752.0 832.8L753.5 833.0L755.0 833.1L756.5 833.2L758.0 833.2L759.5 833.3L761.0 833.4L762.5 833.4L764.0 833.5L765.5 833.5L767.0 833.6L768.5 833.6L770.0 833.6L771.5 833.7L773.0 833.7L774.5 833.7L776.0 833.7L777.5 833.7L779.0 833.8L780.5 833.8L782.0 833.8L783.5 833.8L785.0 833.8L786.5 833.7L788.0 833.7L789.5 833.7L791.0 833.7L792.5 833.7L794.0 833.7L795.5 833.7L797.0 833.6L798.5 833.6L800.0 833.6L801.5 833.6L803.0 833.6L804.5 833.6L806.0 833.6L807.5 833.6L809.0 833.6L810.5 833.6L812.0 833.7L813.5 833.8L815.0 833.9L816.5 834.0L818.0 834.1L819.5 834.3L821.0 834.6L822.5 834.8L824.0 835.0L825.5 835.3L827.0 835.5L828.5 835.8L830.0 836.1L831.5 836.4L833.0 836.7L834.5 837.0L836.0 837.3L837.5 837.6L839.0 838.0L840.5 838.3L842.0 838.8L843.5 839.2L845.0 839.7L846.5 840.2L848.0 840.7L849.5 841.2L851.0 841.6L852.5 842.0L854.0 842.5L855.5 842.8L857.0 843.2L858.5 843.5L860.0 843.8L861.5 844.1L863.0 844.3L864.5 844.6L866.0 844.9L867.5 845.2L869.0 845.4L870.5 845.7L872.0 845.9L873.5 846.0L875.0 846.0L876.5 845.9L878.0 845.9L879.5 845.8L881.0 845.7L882.5 845.7L884.0 845.7L885.5 845.8L887.0 846.0L888.5 846.2L890.0 846.5L891.5 846.9L893.0 847.5L894.5 848.2L896.0 849.1L897.5 850.1L899.0 851.2L900.5 852.4L902.0 853.6L903.5 854.8L905.0 856.0L906.5 857.2L908.0 858.4L909.5 859.5L911.0 860.6L912.5 861.5L914.0 862.4L915.5 863.1L917.0 863.9L918.5 864.6L920.0 865.3L921.5 865.9L923.0 866.6L924.5 867.1L926.0 867.7L927.5 868.2L929.0 868.7L930.5 869.1L932.0 869.5L933.5 869.8L935.0 870.2L936.5 870.5L938.0 870.8L939.5 871.1L941.0 871.4L942.5 871.6L944.0 871.9L945.5 872.0L947.0 872.1L948.5 872.2L950.0 872.2L951.5 872.2L953.0 872.1L954.5 871.9L956.0 871.6L957.5 871.3L959.0 870.7L960.5 870.1L962.0 869.4L963.5 868.5L965.0 867.4L966.5 866.0L968.0 864.5L969.5 862.9L971.0 861.2L972.5 859.4L974.0 857.6L975.5 855.6L977.0 853.4L978.5 851.0L980.0 848.4L981.5 845.8L983.0 843.3L984.5 840.9L986.0 838.8L987.5 836.9L989.0 835.1L990.5 833.3L992.0 831.5L993.5 829.9L995.0 828.4L996.5 827.2L998.0 826.2L999.5 825.6L1001.0 825.4L1002.5 825.5L1004.0 825.9L1005.5 826.5L1007.0 827.2L1008.5 827.9L1010.0 828.7L1011.5 829.5L1013.0 830.2L1014.5 830.9L1016.0 831.8L1017.5 832.7L1019.0 833.5L1020.5 834.3L1022.0 835.1L1023.5 835.7L1025.0 836.2L1026.5 836.6L1028.0 837.0L1029.5 837.3L1031.0 837.6L1032.5 837.8L1034.0 837.9L1035.5 837.8L1037.0 837.6L1038.5 837.2L1040.0 836.7L1041.5 836.0L1043.0 835.3L1044.5 834.5L1046.0 833.7L1047.5 832.9L1049.0 832.1L1050.5 831.3L1052.0 830.5L1053.5 829.7L1055.0 828.8L1056.5 827.9L1058.0 827.0L1059.5 826.0L1061.0 825.0L1062.5 823.9L1064.0 822.8L1065.5 821.7L1067.0 820.7L1068.5 819.6L1070.0 818.5L1071.5 817.4L1073.0 816.3L1074.5 815.3L1076.0 814.3L1077.5 813.3L1079.0 812.4L1080.5 811.5L1082.0 810.6L1083.5 809.7L1085.0 808.9L1086.5 808.1L1088.0 807.3L1089.5 806.6L1091.0 805.9L1092.5 805.2L1094.0 804.6L1095.5 803.9L1097.0 803.3L1098.5 802.7L1100.0 802.1L1101.5 801.5L1103.0 801.0L1104.5 800.4L1106.0 799.9L1107.5 799.4L1109.0 799.0L1110.5 798.5L1112.0 798.0L1113.5 797.6L1115.0 797.3L1116.5 796.9L1118.0 796.5L1119.5 796.2L1121.0 795.8L1122.5 795.4L1124.0 795.0L1125.5 794.5L1127.0 794.1L1128.5 793.6L1130.0 793.0L1131.5 792.4L1133.0 791.8L1134.5 791.1L1136.0 790.4L1137.5 789.7L1139.0 788.9L1140.5 788.1L1142.0 787.3L1143.5 786.3L1145.0 785.4L1146.5 784.4L1148.0 783.3L1149.5 782.3L1151.0 781.1L1152.5 779.9L1154.0 778.6L1155.5 777.2L1157.0 775.9L1158.5 774.5L1160.0 773.1L1161.5 771.8L1163.0 770.4L1164.5 769.1L1166.0 767.9L1167.5 766.6L1169.0 765.3L1170.5 764.0L1172.0 762.8L1173.5 761.5L1175.0 760.3L1176.5 759.1L1178.0 758.0L1179.5 757.0L1181.0 755.9L1182.5 754.9L1184.0 753.9L1185.5 753.0L1187.0 752.1L1188.5 751.4L1190.0 750.8L1191.5 750.4L1193.0 749.9L1194.5 749.5L1196.0 749.2L1197.5 749.0L1199.0 749.0L1200.5 749.2L1202.0 749.6L1203.5 750.2L1205.0 750.9L1206.5 751.6L1208.0 752.4L1209.5 753.2L1211.0 754.3L1212.5 755.5L1214.0 756.8L1215.5 758.2L1217.0 759.7L1218.5 761.2L1220.0 762.7L1221.5 764.4L1223.0 766.0L1224.5 767.8L1226.0 769.6L1227.5 771.5L1229.0 773.5L1230.5 775.6L1232.0 777.7L1233.5 779.8L1235.0 781.9L1236.5 783.9L1238.0 785.9L1239.5 787.9L1241.0 789.8L1242.5 791.8L1244.0 793.8L1245.5 795.7L1247.0 797.6L1248.5 799.5L1250.0 801.3L1251.5 803.1L1253.0 804.8L1254.5 806.4L1256.0 807.9L1257.5 809.5L1259.0 811.0L1260.5 812.5L1262.0 813.9L1263.5 815.2L1265.0 816.5L1266.5 817.7L1268.0 818.8L1269.5 819.9L1271.0 820.9L1272.5 821.9L1274.0 822.8L1275.5 823.6L1277.0 824.4L1278.5 825.0L1280.0 825.7L1281.5 826.2L1283.0 826.7L1284.5 827.2L1286.0 827.7L1287.5 828.1L1289.0 828.5L1290.5 829.0L1292.0 829.4L1293.5 829.8L1295.0 830.3L1296.5 830.8L1298.0 831.3L1299.5 831.8L1301.0 832.3L1302.5 832.9L1304.0 833.4L1305.5 834.0L1307.0 834.5L1308.5 835.2L1310.0 835.8L1311.5 836.6L1313.0 837.4L1314.5 838.3L1316.0 839.3L1317.5 840.5L1319.0 841.7L1320.5 843.1L1322.0 844.6L1323.5 846.2L1325.0 847.9L1326.5 849.6L1328.0 851.4L1329.5 853.2L1331.0 855.2L1332.5 857.4L1334.0 859.8L1335.5 862.2L1337.0 864.7L1338.5 867.1L1340.0 869.4L1341.5 871.7L1343.0 874.2L1344.5 876.7L1346.0 879.5L1347.5 882.5L1349.0 886.0L1350.5 889.9L1352.0 894.0L1353.5 898.3L1355.0 902.6L1356.5 906.8L1358.0 910.8L1359.5 914.7L1361.0 918.4L1362.5 922.2L1364.0 925.9L1365.5 929.7L1367.0 933.5L1368.5 937.5L1370.0 941.6L1371.5 945.8L1373.0 950.2L1374.5 954.6L1376.0 959.0L1377.5 963.5L1379.0 968.0L1380.5 972.4L1382.0 976.8L1383.5 981.3L1385.0 985.7L1386.5 990.1L1388.0 994.5L1389.5 998.8L1391.0 1003.1L1392.5 1007.5L1394.0 1011.8L1395.5 1016.1L1397.0 1020.4L1398.5 1024.7L1400.0 1029.1L1401.5 1033.3L1403.0 1037.6L1404.5 1041.7L1406.0 1045.8L1407.5 1049.8L1409.0 1053.7L1410.5 1057.5L1412.0 1061.4L1413.5 1065.1L1415.0 1068.9L1416.5 1072.6L1418.0 1076.3L1419.5 1080.0L1421.0 1083.7L1422.5 1087.3L1424.0 1090.9L1425.5 1094.5L1427.0 1098.0L1428.5 1101.5L1430.0 1105.0L1431.5 1108.5L1433.0 1111.9L1434.5 1115.2L1436.0 1118.6L1437.5 1121.9L1439.0 1125.1L1440.5 1128.4L1442.0 1131.6L1443.5 1134.8L1445.0 1137.9L1446.5 1141.0L1448.0 1144.0L1449.5 1146.9L1451.0 1149.9L1452.5 1152.8L1454.0 1155.6L1455.5 1158.4L1457.0 1161.2L1458.5 1163.9L1460.0 1166.6L1461.5 1169.2L1463.0 1171.8L1464.5 1174.4L1466.0 1176.8L1467.5 1179.3L1469.0 1181.7L1470.5 1184.1L1472.0 1186.4L1473.5 1188.7L1475.0 1191.0L1476.5 1193.3L1478.0 1195.6L1479.5 1197.8L1481.0 1200.0L1482.5 1202.2L1484.0 1204.4L1485.5 1206.5L1487.0 1208.7L1488.5 1210.8L1490.0 1212.9L1491.5 1215.0L1493.0 1217.1L1494.5 1219.1L1496.0 1221.2L1497.5 1223.2L1499.0 1225.1L1500.5 1227.1L1502.0 1229.0L1503.5 1230.9L1505.0 1232.7L1506.5 1234.6L1508.0 1236.4L1509.5 1238.3L1511.0 1240.1L1512.5 1241.9L1514.0 1243.7L1515.5 1245.5L1517.0 1247.3L1518.5 1249.0L1520.0 1250.7L1521.5 1252.5L1523.0 1254.2L1524.5 1255.8L1526.0 1257.5L1527.5 1259.1L1529.0 1260.7L1530.5 1262.2L1532.0 1263.7L1533.5 1265.2L1535.0 1266.6L1536.5 1268.0L1538.0 1269.3L1539.5 1270.6L1541.0 1271.9L1542.5 1273.2L1544.0 1274.4L1545.5 1275.6L1547.0 1276.8L1548.5 1277.9L1550.0 1279.1L1551.5 1280.2L1553.0 1281.3L1554.5 1282.4L1556.0 1283.4L1557.5 1284.5L1559.0 1285.5L1560.5 1286.5L1562.0 1287.5L1563.5 1288.5L1565.0 1289.5L1566.5 1290.4L1568.0 1291.4L1569.5 1292.3L1571.0 1293.2L1572.5 1294.1L1574.0 1294.9L1575.5 1295.8L1577.0 1296.6L1578.5 1297.4L1580.0 1298.1L1581.5 1298.8L1583.0 1299.5L1584.5 1300.2L1586.0 1300.8L1587.5 1301.4L1589.0 1301.9L1590.5 1302.5L1592.0 1303.0L1593.5 1303.5L1595.0 1304.0L1596.5 1304.5L1598.0 1305.0L1599.5 1305.5L1601.0 1306.1L1602.5 1306.6L1604.0 1307.2L1605.5 1307.9L1607.0 1308.5L1608.5 1309.2L1610.0 1309.9L1611.5 1310.7L1613.0 1311.4L1614.5 1312.2L1616.0 1313.1L1617.5 1313.9L1619.0 1314.8L1620.5 1315.7L1622.0 1316.6L1623.5 1317.5L1625.0 1318.5L1626.5 1319.5L1628.0 1320.5L1629.5 1321.5L1631.0 1322.6L1632.5 1323.7L1634.0 1324.8L1635.5 1325.9L1637.0 1327.1L1638.5 1328.2L1640.0 1329.4L1641.5 1330.4L1643.0 1331.3L1644.5 1332.2L1646.0 1333.2L1647.5 1334.1L1649.0 1335.0L1650.5 1335.9L1652.0 1336.9L1653.5 1337.8L1655.0 1338.7L1656.5 1339.7L1658.0 1340.6"/>
<path stroke="#ffff00" d="M296.0 347.5L297.5 345.3L299.0 343.0L300.5 340.8L302.0 338.6L303.5 336.3L305.0 334.1L306.5 331.8L308.0 329.6L309.5 327.4L311.0 325.3L312.5 323.1L314.0 320.9L315.5 318.6L317.0 316.2L318.5 313.9L320.0 311.5L321.5 309.0L323.0 306.5L324.5 304.0L326.0 301.5L327.5 298.9L329.0 296.3L330.5 293.7L332.0 291.1L333.5 288.5L335.0 285.8L336.5 283.1L338.0 280.5L339.5 277.8L341.0 275.1L342.5 272.4L344.0 269.7L345.5 266.9L347.0 264.2L348.5 261.4L350.0 258.6L351.5 255.9L353.0 253.2L354.5 250.5L356.0 248.0L357.5 245.5L359.0 243.0L360.5 240.5L362.0 238.1L363.5 235.8L365.0 233.6L366.5 231.5L368.0 229.5L369.5 227.6L371.0 225.8L372.5 224.2L374.0 222.9L375.5 221.6L377.0 220.6L378.5 220.3L380.0 221.0L381.5 222.3L383.0 224.0L384.5 226.2L386.0 229.1L387.5 232.4L389.0 235.8L390.5 239.5L392.0 243.7L393.5 248.6L395.0 254.6L396.5 263.3L398.0 274.2L399.5 285.7L401.0 297.5L402.5 309.9L404.0 321.7L405.5 332.4L407.0 342.7L408.5 353.2L410.0 364.4L411.5 376.2L413.0 388.4L414.5 400.7L416.0 412.7L417.5 424.2L419.0 435.5L420.5 446.4L422.0 456.9L423.5 467.0L425.0 477.1L426.5 486.9L428.0 495.9L429.5 503.7L431.0 510.1L432.5 515.9L434.0 521.1L435.5 526.0L437.0 530.5L438.5 534.9L440.0 539.1L441.5 543.4L443.0 547.7L444.5 551.9L446.0 556.1L447.5 560.1L449.0 564.1L450.5 568.0L452.0 571.7L453.5 575.4L455.0 578.9L456.5 582.4L458.0 585.7L459.5 588.9L461.0 592.1L462.5 595.2L464.0 598.2L465.5 601.2L467.0 604.1L468.5 606.9L470.0 609.7L471.5 612.4L473.0 615.1L474.5 617.8L476.0 620.4L477.5 622.9L479.0 625.5L480.5 628.0L482.0 630.4L483.5 632.8L485.0 635.2L486.5 637.5L488.0 639.8L489.5 642.0L491.0 644.2L492.5 646.5L494.0 648.6L495.5 650.8L497.0 653.0L498.5 655.1L500.0 657.2L501.5 659.3L503.0 661.5L504.5 663.6L506.0 665.7L507.5 667.8L509.0 669.8L510.5 671.9L512.0 673.9L513.5 675.9L515.0 678.0L516.5 680.0L518.0 682.0L519.5 683.9L521.0 685.9L522.5 687.9L524.0 689.9L525.5 691.8L527.0 693.8L528.5 695.8L530.0 697.8L531.5 699.7L533.0 701.7L534.5 703.7L536.0 705.7L537.5 707.7L539.0 709.7L540.5 711.6L542.0 713.6L543.5 715.5L545.0 717.4L546.5 719.3L548.0 721.2L549.5 723.0L551.0 724.9L552.5 726.6L554.0 728.4L555.5 730.1L557.0 731.8L558.5 733.5L560.0 735.2L561.5 736.9L563.0 738.5L564.5 740.1L566.0 741.7L567.5 743.3L569.0 744.8L570.5 746.4L572.0 747.9L573.5 749.4L575.0 750.9L576.5 752.4L578.0 753.9L579.5 755.3L581.0 756.8L582.5 758.3L584.0 759.7L585.5 761.1L587.0 762.6L588.5 764.0L590.0 765.3L591.5 766.7L593.0 768.0L594.5 769.4L596.0 770.6L597.5 771.9L599.0 773.1L600.5 774.3L602.0 775.5L603.5 776.7L605.0 777.9L606.5 779.0L608.0 780.1L609.5 781.2L611.0 782.3L612.5 783.4L614.0 784.4L615.5 785.4L617.0 786.4L618.5 787.3L620.0 788.3L621.5 789.2L623.0 790.1L624.5 791.0L626.0 791.8L627.5 792.6L629.0 793.4L630.5 794.1L632.0 794.8L633.5 795.4L635.0 796.1L636.5 796.8L638.0 797.4L639.5 798.1L641.0 798.7L642.5 799.4L644.0 800.1L645.5 800.7L647.0 801.3L648.5 802.0L650.0 802.6L651.5 803.2L653.0 803.8L654.5 804.5L656.0 805.1L657.5 805.7L659.0 806.2L660.5 806.8L662.0 807.4L663.5 808.0L665.0 808.6L666.5 809.1L668.0 809.7L669.5 810.2L671.0 810.8L672.5 811.3L674.0 811.8L675.5 812.3L677.0 812.7L678.5 813.2L680.0 813.6L681.5 814.0L683.0 814.5L684.5 814.9L686.0 815.4L687.5 815.9L689.0 816.5L690.5 817.0L692.0 817.6L693.5 818.3L695.0 819.0L696.5 819.8L698.0 820.8L699.5 821.9L701.0 822.9L702.5 823.8L704.0 824.6L705.5 825.3L707.0 826.0L708.5 826.7L710.0 827.4L711.5 828.1L713.0 828.8L714.5 829.5L716.0 830.2L717.5 830.9L719.0 831.5L720.5 832.2L722.0 832.8L723.5 833.4L725.0 834.0L726.5 834.6L728.0 835.2L729.5 835.7L731.0 836.2L732.5 836.7L734.0 837.2L735.5 837.7L737.0 838.2L738.5 838.6L740.0 839.1L741.5 839.6L743.0 840.0L744.5 840.5L746.0 840.9L747.5 841.3L749.0 841.7L750.5 842.2L752.0 842.6L753.5 842.9L755.0 843.3L756.5 843.7L758.0 844.0L759.5 844.4L761.0 844.7L762.5 845.0L764.0 845.3L765.5 845.5L767.0 845.8L768.5 846.1L770.0 846.3L771.5 846.5L773.0 846.7L774.5 846.9L776.0 847.1L777.5 847.3L779.0 847.4L780.5 847.6L782.0 847.7L783.5 847.8L785.0 848.0L786.5 848.1L788.0 848.2L789.5 848.3L791.0 848.4L792.5 848.5L794.0 848.5L795.5 848.6L797.0 848.7L798.5 848.8L800.0 848.9L801.5 849.0L803.0 849.1L804.5 849.2L806.0 849.3L807.5 849.4L809.0 849.5L810.5 849.6L812.0 849.7L813.5 849.8L815.0 849.9L816.5 850.1L818.0 850.2L819.5 850.4L821.0 850.6L822.5 850.8L824.0 851.1L825.5 851.3L827.0 851.6L828.5 851.8L830.0 852.1L831.5 852.4L833.0 852.7L834.5 853.1L836.0 853.5L837.5 853.8L839.0 854.2L840.5 854.7L842.0 855.2L843.5 855.6L845.0 856.1L846.5 856.6L848.0 857.1L849.5 857.6L851.0 858.0L852.5 858.4L854.0 858.8L855.5 859.1L857.0 859.4L858.5 859.7L860.0 860.0L861.5 860.2L863.0 860.4L864.5 860.7L866.0 860.9L867.5 861.1L869.0 861.3L870.5 861.5L872.0 861.7L873.5 861.8L875.0 861.9L876.5 862.0L878.0 862.0L879.5 862.1L881.0 862.2L882.5 862.3L884.0 862.5L885.5 862.8L887.0 863.1L888.5 863.5L890.0 863.9L891.5 864.4L893.0 865.0L894.5 865.7L896.0 866.6L897.5 867.6L899.0 868.7L900.5 869.9L902.0 871.2L903.5 872.4L905.0 873.7L906.5 874.9L908.0 876.1L909.5 877.3L911.0 878.4L912.5 879.4L914.0 880.3L915.5 881.1L917.0 881.9L918.5 882.6L920.0 883.3L921.5 884.0L923.0 884.6L924.5 885.2L926.0 885.8L927.5 886.4L929.0 886.8L930.5 887.3L932.0 887.7L933.5 888.1L935.0 888.5L936.5 888.9L938.0 889.2L939.5 889.6L941.0 889.9L942.5 890.1L944.0 890.4L945.5 890.6L947.0 890.8L948.5 890.9L950.0 891.1L951.5 891.2L953.0 891.3L954.5 891.4L956.0 891.4L957.5 891.4L959.0 891.5L960.5 891.5L962.0 891.6L963.5 891.5L965.0 891.2L966.5 890.6L968.0 889.7L969.5 888.5L971.0 887.0L972.5 885.1L974.0 882.9L975.5 880.4L977.0 877.7L978.5 874.7L980.0 871.6L981.5 868.8L983.0 866.2L984.5 863.8L986.0 861.6L987.5 859.7L989.0 857.9L990.5 856.1L992.0 854.4L993.5 852.7L995.0 851.3L996.5 850.1L998.0 849.1L999.5 848.6L1001.0 848.5L1002.5 848.7L1004.0 849.2L1005.5 850.0L1007.0 850.8L1008.5 851.8L1010.0 852.8L1011.5 853.7L1013.0 854.5L1014.5 855.5L1016.0 856.5L1017.5 857.5L1019.0 858.6L1020.5 859.5L1022.0 860.3L1023.5 860.9L1025.0 861.3L1026.5 861.6L1028.0 861.9L1029.5 862.2L1031.0 862.5L1032.5 862.6L1034.0 862.7L1035.5 862.6L1037.0 862.4L1038.5 862.0L1040.0 861.5L1041.5 861.0L1043.0 860.4L1044.5 859.7L1046.0 859.0L1047.5 858.3L1049.0 857.5L1050.5 856.8L1052.0 856.1L1053.5 855.3L1055.0 854.6L1056.5 853.8L1058.0 852.9L1059.5 852.0L1061.0 851.0L1062.5 850.0L1064.0 848.9L1065.5 847.9L1067.0 846.9L1068.5 845.8L1070.0 844.8L1071.5 843.8L1073.0 842.8L1074.5 841.8L1076.0 840.8L1077.5 839.8L1079.0 838.9L1080.5 838.0L1082.0 837.1L1083.5 836.2L1085.0 835.4L1086.5 834.6L1088.0 833.8L1089.5 833.1L1091.0 832.4L1092.5 831.8L1094.0 831.2L1095.5 830.6L1097.0 830.0L1098.5 829.5L1100.0 829.0L1101.5 828.6L1103.0 828.1L1104.5 827.7L1106.0 827.3L1107.5 827.0L1109.0 826.7L1110.5 826.4L1112.0 826.1L1113.5 825.9L1115.0 825.7L1116.5 825.6L1118.0 825.4L1119.5 825.3L1121.0 825.2L1122.5 825.0L1124.0 824.9L1125.5 824.6L1127.0 824.1L1128.5 823.6L1130.0 823.1L1131.5 822.5L1133.0 821.9L1134.5 821.2L1136.0 820.5L1137.5 819.8L1139.0 819.0L1140.5 818.2L1142.0 817.3L1143.5 816.4L1145.0 815.5L1146.5 814.6L1148.0 813.6L1149.5 812.5L1151.0 811.4L1152.5 810.2L1154.0 809.0L1155.5 807.7L1157.0 806.4L1158.5 805.1L1160.0 803.7L1161.5 802.4L1163.0 801.2L1164.5 799.9L1166.0 798.7L1167.5 797.5L1169.0 796.2L1170.5 795.0L1172.0 793.8L1173.5 792.6L1175.0 791.4L1176.5 790.3L1178.0 789.2L1179.5 788.2L1181.0 787.2L1182.5 786.3L1184.0 785.3L1185.5 784.4L1187.0 783.6L1188.5 782.9L1190.0 782.4L1191.5 781.9L1193.0 781.5L1194.5 781.1L1196.0 780.8L1197.5 780.7L1199.0 780.6L1200.5 780.9L1202.0 781.3L1203.5 781.9L1205.0 782.6L1206.5 783.3L1208.0 784.1L1209.5 784.9L1211.0 785.9L1212.5 787.1L1214.0 788.4L1215.5 789.7L1217.0 791.1L1218.5 792.5L1220.0 794.0L1221.5 795.6L1223.0 797.3L1224.5 799.0L1226.0 800.8L1227.5 802.7L1229.0 804.6L1230.5 806.6L1232.0 808.6L1233.5 810.6L1235.0 812.6L1236.5 814.5L1238.0 816.3L1239.5 818.2L1241.0 820.0L1242.5 821.8L1244.0 823.7L1245.5 825.5L1247.0 827.3L1248.5 829.0L1250.0 830.7L1251.5 832.3L1253.0 833.9L1254.5 835.4L1256.0 836.8L1257.5 838.3L1259.0 839.7L1260.5 841.0L1262.0 842.3L1263.5 843.6L1265.0 844.8L1266.5 845.9L1268.0 847.0L1269.5 848.0L1271.0 849.0L1272.5 849.9L1274.0 850.7L1275.5 851.5L1277.0 852.2L1278.5 852.9L1280.0 853.4L1281.5 854.0L1283.0 854.5L1284.5 854.9L1286.0 855.4L1287.5 855.8L1289.0 856.2L1290.5 856.7L1292.0 857.1L1293.5 857.6L1295.0 858.1L1296.5 858.6L1298.0 859.1L1299.5 859.6L1301.0 860.1L1302.5 860.6L1304.0 861.2L1305.5 861.7L1307.0 862.3L1308.5 863.0L1310.0 863.7L1311.5 864.4L1313.0 865.2L1314.5 866.1L1316.0 867.2L1317.5 868.4L1319.0 869.6L1320.5 871.0L1322.0 872.5L1323.5 874.0L1325.0 875.6L1326.5 877.2L1328.0 878.9L1329.5 880.7L1331.0 882.6L1332.5 884.6L1334.0 886.7L1335.5 888.9L1337.0 891.1L1338.5 893.2L1340.0 895.3L1341.5 897.4L1343.0 899.6L1344.5 902.0L1346.0 904.5L1347.5 907.4L1349.0 910.8L1350.5 914.5L1352.0 918.6L1353.5 922.7L1355.0 926.9L1356.5 930.9L1358.0 934.7L1359.5 938.3L1361.0 941.9L1362.5 945.4L1364.0 948.9L1365.5 952.5L1367.0 956.2L1368.5 960.0L1370.0 963.9L1371.5 968.0L1373.0 972.1L1374.5 976.4L1376.0 980.7L1377.5 985.0L1379.0 989.3L1380.5 993.6L1382.0 997.8L1383.5 1002.0L1385.0 1006.2L1386.5 1010.3L1388.0 1014.5L1389.5 1018.6L1391.0 1022.7L1392.5 1026.8L1394.0 1030.9L1395.5 1035.0L1397.0 1039.1L1398.5 1043.2L1400.0 1047.2L1401.5 1051.3L1403.0 1055.3L1404.5 1059.2L1406.0 1063.0L1407.5 1066.7L1409.0 1070.4L1410.5 1074.1L1412.0 1077.7L1413.5 1081.3L1415.0 1084.8L1416.5 1088.4L1418.0 1091.9L1419.5 1095.3L1421.0 1098.8L1422.5 1102.2L1424.0 1105.6L1425.5 1109.0L1427.0 1112.3L1428.5 1115.6L1430.0 1118.9L1431.5 1122.1L1433.0 1125.3L1434.5 1128.4L1436.0 1131.6L1437.5 1134.6L1439.0 1137.7L1440.5 1140.7L1442.0 1143.6L1443.5 1146.6L1445.0 1149.5L1446.5 1152.3L1448.0 1155.1L1449.5 1157.9L1451.0 1160.6L1452.5 1163.3L1454.0 1166.0L1455.5 1168.6L1457.0 1171.2L1458.5 1173.7L1460.0 1176.2L1461.5 1178.7L1463.0 1181.1L1464.5 1183.5L1466.0 1185.8L1467.5 1188.2L1469.0 1190.4L1470.5 1192.7L1472.0 1194.9L1473.5 1197.1L1475.0 1199.3L1476.5 1201.4L1478.0 1203.6L1479.5 1205.7L1481.0 1207.8L1482.5 1209.9L1484.0 1212.0L1485.5 1214.0L1487.0 1216.1L1488.5 1218.1L1490.0 1220.1L1491.5 1222.1L1493.0 1224.1L1494.5 1226.0L1496.0 1228.0L1497.5 1229.9L1499.0 1231.7L1500.5 1233.6L1502.0 1235.4L1503.5 1237.2L1505.0 1239.0L1506.5 1240.7L1508.0 1242.5L1509.5 1244.2L1511.0 1245.9L1512.5 1247.6L1514.0 1249.2L1515.5 1250.9L1517.0 1252.5L1518.5 1254.1L1520.0 1255.7L1521.5 1257.3L1523.0 1258.8L1524.5 1260.4L1526.0 1261.9L1527.5 1263.3L1529.0 1264.8L1530.5 1266.2L1532.0 1267.6L1533.5 1268.9L1535.0 1270.3L1536.5 1271.5L1538.0 1272.8L1539.5 1274.0L1541.0 1275.2L1542.5 1276.4L1544.0 1277.5L1545.5 1278.7L1547.0 1279.7L1548.5 1280.8L1550.0 1281.9L1551.5 1282.9L1553.0 1283.9L1554.5 1284.9L1556.0 1285.9L1557.5 1286.9L1559.0 1287.9L1560.5 1288.8L1562.0 1289.8L1563.5 1290.7L1565.0 1291.6L1566.5 1292.5L1568.0 1293.3L1569.5 1294.2L1571.0 1295.0L1572.5 1295.8L1574.0 1296.6L1575.5 1297.4L1577.0 1298.2L1578.5 1298.9L1580.0 1299.6L1581.5 1300.3L1583.0 1300.9L1584.5 1301.5L1586.0 1302.1L1587.5 1302.6L1589.0 1303.1L1590.5 1303.6L1592.0 1304.1L1593.5 1304.5L1595.0 1305.0L1596.5 1305.5L1598.0 1305.9L1599.5 1306.4L1601.0 1306.9L1602.5 1307.5L1604.0 1308.1L1605.5 1308.7L1607.0 1309.4L1608.5 1310.1L1610.0 1310.8L1611.5 1311.5L1613.0 1312.3L1614.5 1313.2L1616.0 1314.0L1617.5 1314.9L1619.0 1315.8L1620.5 1316.8L1622.0 1317.7L1623.5 1318.7L1625.0 1319.8L1626.5 1320.8L1628.0 1321.9L1629.5 1323.0L1631.0 1324.1L1632.5 1325.3L1634.0 1326.5L1635.5 1327.7L1637.0 1328.9L1638.5 1330.2L1640.0 1331.4L1641.5 1332.4L1643.0 1333.4L1644.5 1334.4L1646.0 1335.4L1647.5 1336.3L1649.0 1337.3L1650.5 1338.3L1652.0 1339.3L1653.5 1340.3"/>
<path stroke="#808000" d="M296.0 338.2L297.5 335.6L299.0 333.0L300.5 330.5L302.0 327.9L303.5 325.3L305.0 322.7L306.5 320.1L308.0 317.5L309.5 315.1L311.0 312.6L312.5 310.1L314.0 307.5L315.5 304.9L317.0 302.3L318.5 299.6L320.0 296.9L321.5 294.2L323.0 291.4L324.5 288.6L326.0 285.8L327.5 283.0L329.0 280.1L330.5 277.3L332.0 274.4L333.5 271.5L335.0 268.6L336.5 265.7L338.0 262.7L339.5 259.8L341.0 256.9L342.5 253.9L344.0 251.0L345.5 248.1L347.0 245.1L348.5 242.1L350.0 239.0L351.5 236.1L353.0 233.1L354.5 230.3L356.0 227.5L357.5 224.8L359.0 222.1L360.5 219.4L362.0 216.8L363.5 214.3L365.0 211.8L366.5 209.6L368.0 207.4L369.5 205.3L371.0 203.4L372.5 201.6L374.0 200.1L375.5 198.8L377.0 197.6L378.5 197.2L380.0 197.8L381.5 199.1L383.0 200.8L384.5 203.0L386.0 205.9L387.5 209.3L389.0 212.9L390.5 216.6L392.0 220.9L393.5 225.9L395.0 232.1L396.5 241.1L398.0 252.5L399.5 264.4L401.0 276.7L402.5 289.6L404.0 301.9L405.5 313.0L407.0 323.6L408.5 334.5L410.0 346.2L411.5 358.4L413.0 371.1L414.5 384.0L416.0 396.5L417.5 408.4L419.0 420.2L420.5 431.7L422.0 442.6L423.5 453.2L425.0 463.8L426.5 474.0L428.0 483.4L429.5 491.5L431.0 498.1L432.5 504.0L434.0 509.4L435.5 514.3L437.0 518.9L438.5 523.3L440.0 527.6L441.5 531.9L443.0 536.3L444.5 540.6L446.0 544.8L447.5 548.9L449.0 552.9L450.5 556.8L452.0 560.6L453.5 564.3L455.0 567.9L456.5 571.4L458.0 574.7L459.5 577.9L461.0 581.1L462.5 584.2L464.0 587.2L465.5 590.2L467.0 593.0L468.5 595.9L470.0 598.6L471.5 601.4L473.0 604.0L474.5 606.7L476.0 609.2L477.5 611.8L479.0 614.3L480.5 616.7L482.0 619.2L483.5 621.5L485.0 623.8L486.5 626.1L488.0 628.4L489.5 630.6L491.0 632.8L492.5 635.0L494.0 637.1L495.5 639.2L497.0 641.4L498.5 643.5L500.0 645.6L501.5 647.7L503.0 649.8L504.5 651.9L506.0 654.0L507.5 656.1L509.0 658.1L510.5 660.2L512.0 662.2L513.5 664.3L515.0 666.3L516.5 668.3L518.0 670.3L519.5 672.3L521.0 674.3L522.5 676.3L524.0 678.3L525.5 680.3L527.0 682.3L528.5 684.3L530.0 686.3L531.5 688.3L533.0 690.3L534.5 692.3L536.0 694.3L537.5 696.3L539.0 698.3L540.5 700.3L542.0 702.3L543.5 704.3L545.0 706.2L546.5 708.1L548.0 710.0L549.5 711.9L551.0 713.7L552.5 715.5L554.0 717.3L555.5 719.0L557.0 720.7L558.5 722.4L560.0 724.1L561.5 725.8L563.0 727.4L564.5 729.1L566.0 730.7L567.5 732.3L569.0 733.8L570.5 735.4L572.0 736.9L573.5 738.5L575.0 740.0L576.5 741.5L578.0 743.0L579.5 744.6L581.0 746.1L582.5 747.5L584.0 749.0L585.5 750.5L587.0 752.0L588.5 753.4L590.0 754.8L591.5 756.2L593.0 757.6L594.5 759.0L596.0 760.4L597.5 761.7L599.0 763.0L600.5 764.3L602.0 765.6L603.5 766.8L605.0 768.1L606.5 769.3L608.0 770.5L609.5 771.7L611.0 772.8L612.5 774.0L614.0 775.1L615.5 776.2L617.0 777.3L618.5 778.4L620.0 779.5L621.5 780.5L623.0 781.6L624.5 782.6L626.0 783.6L627.5 784.5L629.0 785.4L630.5 786.4L632.0 787.2L633.5 788.1L635.0 789.0L636.5 789.9L638.0 790.7L639.5 791.6L641.0 792.4L642.5 793.3L644.0 794.1L645.5 794.9L647.0 795.7L648.5 796.6L650.0 797.4L651.5 798.2L653.0 799.0L654.5 799.8L656.0 800.6L657.5 801.3L659.0 802.1L660.5 802.9L662.0 803.6L663.5 804.4L665.0 805.1L666.5 805.9L668.0 806.6L669.5 807.3L671.0 808.1L672.5 808.7L674.0 809.4L675.5 810.0L677.0 810.7L678.5 811.3L680.0 811.9L681.5 812.5L683.0 813.1L684.5 813.7L686.0 814.3L687.5 815.0L689.0 815.7L690.5 816.5L692.0 817.3L693.5 818.1L695.0 819.0L696.5 820.0L698.0 821.2L699.5 822.6L701.0 823.7L702.5 824.6L704.0 825.6L705.5 826.4L707.0 827.2L708.5 828.0L710.0 828.8L711.5 829.6L713.0 830.4L714.5 831.2L716.0 832.0L717.5 832.8L719.0 833.5L720.5 834.3L722.0 835.1L723.5 835.8L725.0 836.5L726.5 837.2L728.0 837.9L729.5 838.6L731.0 839.2L732.5 839.9L734.0 840.5L735.5 841.1L737.0 841.8L738.5 842.4L740.0 843.0L741.5 843.6L743.0 844.2L744.5 844.8L746.0 845.4L747.5 846.0L749.0 846.6L750.5 847.2L752.0 847.8L753.5 848.4L755.0 849.0L756.5 849.5L758.0 850.1L759.5 850.6L761.0 851.2L762.5 851.7L764.0 852.2L765.5 852.7L767.0 853.2L768.5 853.6L770.0 854.0L771.5 854.4L773.0 854.8L774.5 855.1L776.0 855.4L777.5 855.7L779.0 855.9L780.5 856.2L782.0 856.4L783.5 856.7L785.0 856.9L786.5 857.1L788.0 857.3L789.5 857.5L791.0 857.7L792.5 857.9L794.0 858.1L795.5 858.2L797.0 858.4L798.5 858.6L800.0 858.8L801.5 859.0L803.0 859.2L804.5 859.4L806.0 859.6L807.5 859.8L809.0 860.0L810.5 860.2L812.0 860.4L813.5 860.7L815.0 860.9L816.5 861.2L818.0 861.4L819.5 861.7L821.0 862.0L822.5 862.3L824.0 862.7L825.5 863.0L827.0 863.4L828.5 863.8L830.0 864.2L831.5 864.6L833.0 865.0L834.5 865.5L836.0 866.0L837.5 866.6L839.0 867.1L840.5 867.7L842.0 868.4L843.5 869.0L845.0 869.7L846.5 870.4L848.0 871.1L849.5 871.8L851.0 872.5L852.5 873.2L854.0 873.8L855.5 874.4L857.0 875.0L858.5 875.5L860.0 876.0L861.5 876.5L863.0 876.9L864.5 877.3L866.0 877.7L867.5 878.0L869.0 878.3L870.5 878.6L872.0 878.9L873.5 879.0L875.0 879.2L876.5 879.3L878.0 879.4L879.5 879.5L881.0 879.6L882.5 879.8L884.0 880.0L885.5 880.3L887.0 880.6L888.5 881.0L890.0 881.5L891.5 882.0L893.0 882.6L894.5 883.3L896.0 884.2L897.5 885.1L899.0 886.1L900.5 887.2L902.0 888.3L903.5 889.4L905.0 890.4L906.5 891.5L908.0 892.5L909.5 893.5L911.0 894.4L912.5 895.4L914.0 896.2L915.5 897.0L917.0 897.8L918.5 898.6L920.0 899.4L921.5 900.1L923.0 900.9L924.5 901.6L926.0 902.2L927.5 902.8L929.0 903.3L930.5 903.7L932.0 904.1L933.5 904.4L935.0 904.6L936.5 904.8L938.0 904.9L939.5 905.0L941.0 905.1L942.5 905.1L944.0 905.1L945.5 905.0L947.0 905.0L948.5 904.9L950.0 904.7L951.5 904.6L953.0 904.4L954.5 904.2L956.0 904.0L957.5 903.8L959.0 903.7L960.5 903.7L962.0 903.9L963.5 904.0L965.0 903.8L966.5 903.4L968.0 902.6L969.5 901.6L971.0 900.2L972.5 898.7L974.0 897.2L975.5 895.6L977.0 893.7L978.5 891.5L980.0 889.1L981.5 886.6L983.0 884.1L984.5 881.7L986.0 879.6L987.5 877.6L989.0 875.8L990.5 874.0L992.0 872.1L993.5 870.3L995.0 868.7L996.5 867.3L998.0 866.2L999.5 865.5L1001.0 865.4L1002.5 865.7L1004.0 866.3L1005.5 867.2L1007.0 868.2L1008.5 869.3L1010.0 870.5L1011.5 871.5L1013.0 872.5L1014.5 873.6L1016.0 874.7L1017.5 876.0L1019.0 877.2L1020.5 878.3L1022.0 879.4L1023.5 880.3L1025.0 881.0L1026.5 881.6L1028.0 882.2L1029.5 882.7L1031.0 883.2L1032.5 883.6L1034.0 883.9L1035.5 884.1L1037.0 884.1L1038.5 884.0L1040.0 883.8L1041.5 883.5L1043.0 883.2L1044.5 882.8L1046.0 882.4L1047.5 881.9L1049.0 881.4L1050.5 880.9L1052.0 880.1L1053.5 879.3L1055.0 878.6L1056.5 877.8L1058.0 876.9L1059.5 876.0L1061.0 875.0L1062.5 874.0L1064.0 872.9L1065.5 871.9L1067.0 870.9L1068.5 869.9L1070.0 868.9L1071.5 867.9L1073.0 866.9L1074.5 865.9L1076.0 864.9L1077.5 864.0L1079.0 863.0L1080.5 862.1L1082.0 861.2L1083.5 860.4L1085.0 859.5L1086.5 858.8L1088.0 858.0L1089.5 857.3L1091.0 856.7L1092.5 856.0L1094.0 855.4L1095.5 854.8L1097.0 854.2L1098.5 853.7L1100.0 853.1L1101.5 852.6L1103.0 852.1L1104.5 851.6L1106.0 851.2L1107.5 850.7L1109.0 850.3L1110.5 849.9L1112.0 849.6L1113.5 849.2L1115.0 848.9L1116.5 848.7L1118.0 848.4L1119.5 848.1L1121.0 847.9L1122.5 847.6L1124.0 847.3L1125.5 847.0L1127.0 846.7L1128.5 846.3L1130.0 845.9L1131.5 845.5L1133.0 845.0L1134.5 844.6L1136.0 844.1L1137.5 843.5L1139.0 842.9L1140.5 842.4L1142.0 841.7L1143.5 841.1L1145.0 840.4L1146.5 839.7L1148.0 839.0L1149.5 838.2L1151.0 837.2L1152.5 836.1L1154.0 834.9L1155.5 833.7L1157.0 832.5L1158.5 831.3L1160.0 830.1L1161.5 828.8L1163.0 827.7L1164.5 826.5L1166.0 825.4L1167.5 824.2L1169.0 823.1L1170.5 821.9L1172.0 820.8L1173.5 819.7L1175.0 818.6L1176.5 817.6L1178.0 816.6L1179.5 815.6L1181.0 814.8L1182.5 813.9L1184.0 813.0L1185.5 812.2L1187.0 811.4L1188.5 810.8L1190.0 810.4L1191.5 810.0L1193.0 809.7L1194.5 809.4L1196.0 809.2L1197.5 809.0L1199.0 809.1L1200.5 809.3L1202.0 809.8L1203.5 810.4L1205.0 811.1L1206.5 811.8L1208.0 812.5L1209.5 813.3L1211.0 814.3L1212.5 815.5L1214.0 816.7L1215.5 818.0L1217.0 819.3L1218.5 820.7L1220.0 822.1L1221.5 823.7L1223.0 825.4L1224.5 827.1L1226.0 828.9L1227.5 830.7L1229.0 832.6L1230.5 834.5L1232.0 836.4L1233.5 838.3L1235.0 840.1L1236.5 841.9L1238.0 843.6L1239.5 845.4L1241.0 847.1L1242.5 848.8L1244.0 850.5L1245.5 852.2L1247.0 853.9L1248.5 855.5L1250.0 857.1L1251.5 858.6L1253.0 860.1L1254.5 861.4L1256.0 862.8L1257.5 864.1L1259.0 865.4L1260.5 866.6L1262.0 867.9L1263.5 869.0L1265.0 870.2L1266.5 871.3L1268.0 872.3L1269.5 873.3L1271.0 874.2L1272.5 875.0L1274.0 875.8L1275.5 876.6L1277.0 877.2L1278.5 877.8L1280.0 878.4L1281.5 878.9L1283.0 879.4L1284.5 879.8L1286.0 880.2L1287.5 880.7L1289.0 881.1L1290.5 881.5L1292.0 882.0L1293.5 882.5L1295.0 883.0L1296.5 883.5L1298.0 884.0L1299.5 884.5L1301.0 885.0L1302.5 885.6L1304.0 886.1L1305.5 886.7L1307.0 887.3L1308.5 887.9L1310.0 888.6L1311.5 889.4L1313.0 890.2L1314.5 891.1L1316.0 892.2L1317.5 893.4L1319.0 894.7L1320.5 896.1L1322.0 897.5L1323.5 899.0L1325.0 900.5L1326.5 902.0L1328.0 903.7L1329.5 905.3L1331.0 907.1L1332.5 909.0L1334.0 910.9L1335.5 912.8L1337.0 914.8L1338.5 916.7L1340.0 918.6L1341.5 920.5L1343.0 922.5L1344.5 924.7L1346.0 927.0L1347.5 929.8L1349.0 933.0L1350.5 936.7L1352.0 940.6L1353.5 944.7L1355.0 948.7L1356.5 952.5L1358.0 956.1L1359.5 959.6L1361.0 963.0L1362.5 966.3L1364.0 969.6L1365.5 973.0L1367.0 976.5L1368.5 980.1L1370.0 983.9L1371.5 987.9L1373.0 991.9L1374.5 996.0L1376.0 1000.1L1377.5 1004.3L1379.0 1008.4L1380.5 1012.5L1382.0 1016.5L1383.5 1020.5L1385.0 1024.5L1386.5 1028.5L1388.0 1032.5L1389.5 1036.4L1391.0 1040.3L1392.5 1044.2L1394.0 1048.1L1395.5 1051.9L1397.0 1055.8L1398.5 1059.7L1400.0 1063.6L1401.5 1067.4L1403.0 1071.1L1404.5 1074.8L1406.0 1078.4L1407.5 1082.0L1409.0 1085.4L1410.5 1088.9L1412.0 1092.3L1413.5 1095.7L1415.0 1099.1L1416.5 1102.5L1418.0 1105.8L1419.5 1109.1L1421.0 1112.4L1422.5 1115.6L1424.0 1118.8L1425.5 1122.0L1427.0 1125.2L1428.5 1128.3L1430.0 1131.3L1431.5 1134.4L1433.0 1137.4L1434.5 1140.3L1436.0 1143.2L1437.5 1146.1L1439.0 1148.9L1440.5 1151.7L1442.0 1154.5L1443.5 1157.2L1445.0 1159.9L1446.5 1162.5L1448.0 1165.1L1449.5 1167.7L1451.0 1170.3L1452.5 1172.8L1454.0 1175.2L1455.5 1177.7L1457.0 1180.1L1458.5 1182.5L1460.0 1184.8L1461.5 1187.2L1463.0 1189.4L1464.5 1191.7L1466.0 1193.9L1467.5 1196.1L1469.0 1198.3L1470.5 1200.4L1472.0 1202.5L1473.5 1204.6L1475.0 1206.7L1476.5 1208.7L1478.0 1210.8L1479.5 1212.8L1481.0 1214.8L1482.5 1216.8L1484.0 1218.8L1485.5 1220.8L1487.0 1222.7L1488.5 1224.7L1490.0 1226.6L1491.5 1228.5L1493.0 1230.4L1494.5 1232.2L1496.0 1234.1L1497.5 1235.9L1499.0 1237.7L1500.5 1239.4L1502.0 1241.2L1503.5 1242.9L1505.0 1244.6L1506.5 1246.2L1508.0 1247.9L1509.5 1249.5L1511.0 1251.1L1512.5 1252.6L1514.0 1254.2L1515.5 1255.7L1517.0 1257.2L1518.5 1258.7L1520.0 1260.1L1521.5 1261.6L1523.0 1263.0L1524.5 1264.4L1526.0 1265.8L1527.5 1267.2L1529.0 1268.5L1530.5 1269.8L1532.0 1271.1L1533.5 1272.3L1535.0 1273.5L1536.5 1274.7L1538.0 1275.9L1539.5 1277.1L1541.0 1278.2L1542.5 1279.3L1544.0 1280.3L1545.5 1281.4L1547.0 1282.4L1548.5 1283.4L1550.0 1284.4L1551.5 1285.4L1553.0 1286.3L1554.5 1287.3L1556.0 1288.2L1557.5 1289.1L1559.0 1290.0L1560.5 1290.9L1562.0 1291.8L1563.5 1292.6L1565.0 1293.5L1566.5 1294.3L1568.0 1295.1L1569.5 1295.9L1571.0 1296.7L1572.5 1297.4L1574.0 1298.2L1575.5 1298.9L1577.0 1299.6L1578.5 1300.3L1580.0 1300.9L1581.5 1301.6L1583.0 1302.2L1584.5 1302.7L1586.0 1303.2L1587.5 1303.7L1589.0 1304.2L1590.5 1304.6L1592.0 1305.0L1593.5 1305.5L1595.0 1305.9L1596.5 1306.3L1598.0 1306.8L1599.5 1307.2L1601.0 1307.7L1602.5 1308.3L1604.0 1308.8L1605.5 1309.5L1607.0 1310.1L1608.5 1310.8L1610.0 1311.6L1611.5 1312.3L1613.0 1313.1L1614.5 1314.0L1616.0 1314.9L1617.5 1315.8L1619.0 1316.7L1620.5 1317.7L1622.0 1318.7L1623.5 1319.8L1625.0 1320.9L1626.5 1322.0L1628.0 1323.1L1629.5 1324.3L1631.0 1325.5L1632.5 1326.7L1634.0 1328.0L1635.5 1329.2L1637.0 1330.5L1638.5 1331.9L1640.0 1333.2L1641.5 1334.3L1643.0 1335.3L1644.5 1336.3L1646.0 1337.3L1647.5 1338.4L1649.0 1339.4L1650.5 1340.4"/>
<path stroke="#800080" d="M296.0 328.4L297.5 325.5L299.0 322.6L300.5 319.7L302.0 316.7L303.5 313.8L305.0 310.9L306.5 307.9L308.0 305.0L309.5 302.1L311.0 299.3L312.5 296.4L314.0 293.4L315.5 290.5L317.0 287.5L318.5 284.5L320.0 281.5L321.5 278.4L323.0 275.3L324.5 272.2L326.0 269.0L327.5 265.9L329.0 262.7L330.5 259.5L332.0 256.3L333.5 253.1L335.0 249.8L336.5 246.6L338.0 243.4L339.5 240.1L341.0 236.9L342.5 233.7L344.0 230.5L345.5 227.2L347.0 223.9L348.5 220.6L350.0 217.3L351.5 214.0L353.0 210.7L354.5 207.6L356.0 204.5L357.5 201.5L359.0 198.5L360.5 195.5L362.0 192.7L363.5 189.9L365.0 187.2L366.5 184.6L368.0 182.2L369.5 179.9L371.0 177.7L372.5 175.7L374.0 174.0L375.5 172.4L377.0 171.1L378.5 170.5L380.0 171.0L381.5 172.4L383.0 174.0L384.5 176.2L386.0 179.3L387.5 182.8L389.0 186.4L390.5 190.3L392.0 194.7L393.5 199.8L395.0 206.2L396.5 215.6L398.0 227.6L399.5 240.0L401.0 252.8L402.5 266.3L404.0 279.1L405.5 290.6L407.0 301.7L408.5 313.0L410.0 325.2L411.5 338.0L413.0 351.4L414.5 364.8L416.0 377.9L417.5 390.5L419.0 402.8L420.5 414.8L422.0 426.3L423.5 437.4L425.0 448.5L426.5 459.3L428.0 469.2L429.5 477.6L431.0 484.4L432.5 490.5L434.0 495.9L435.5 501.0L437.0 505.6L438.5 510.1L440.0 514.4L441.5 518.8L443.0 523.3L444.5 527.6L446.0 531.9L447.5 536.1L449.0 540.2L450.5 544.2L452.0 548.0L453.5 551.8L455.0 555.4L456.5 558.9L458.0 562.2L459.5 565.5L461.0 568.6L462.5 571.7L464.0 574.7L465.5 577.7L467.0 580.6L468.5 583.4L470.0 586.1L471.5 588.8L473.0 591.5L474.5 594.1L476.0 596.6L477.5 599.2L479.0 601.7L480.5 604.1L482.0 606.5L483.5 608.8L485.0 611.1L486.5 613.3L488.0 615.5L489.5 617.7L491.0 619.8L492.5 622.0L494.0 624.1L495.5 626.2L497.0 628.3L498.5 630.4L500.0 632.5L501.5 634.6L503.0 636.7L504.5 638.8L506.0 640.9L507.5 642.9L509.0 645.0L510.5 647.1L512.0 649.1L513.5 651.2L515.0 653.2L516.5 655.2L518.0 657.3L519.5 659.3L521.0 661.3L522.5 663.3L524.0 665.3L525.5 667.3L527.0 669.3L528.5 671.3L530.0 673.4L531.5 675.4L533.0 677.5L534.5 679.5L536.0 681.6L537.5 683.6L539.0 685.7L540.5 687.7L542.0 689.7L543.5 691.7L545.0 693.7L546.5 695.6L548.0 697.5L549.5 699.4L551.0 701.3L552.5 703.1L554.0 704.9L555.5 706.6L557.0 708.4L558.5 710.1L560.0 711.8L561.5 713.5L563.0 715.1L564.5 716.8L566.0 718.4L567.5 720.0L569.0 721.6L570.5 723.2L572.0 724.8L573.5 726.4L575.0 727.9L576.5 729.5L578.0 731.0L579.5 732.6L581.0 734.1L582.5 735.7L584.0 737.2L585.5 738.7L587.0 740.2L588.5 741.7L590.0 743.2L591.5 744.7L593.0 746.1L594.5 747.6L596.0 749.0L597.5 750.4L599.0 751.8L600.5 753.2L602.0 754.6L603.5 755.9L605.0 757.2L606.5 758.5L608.0 759.8L609.5 761.1L611.0 762.4L612.5 763.6L614.0 764.9L615.5 766.1L617.0 767.4L618.5 768.6L620.0 769.8L621.5 771.0L623.0 772.1L624.5 773.3L626.0 774.5L627.5 775.6L629.0 776.8L630.5 777.9L632.0 779.0L633.5 780.1L635.0 781.2L636.5 782.3L638.0 783.4L639.5 784.4L641.0 785.5L642.5 786.5L644.0 787.6L645.5 788.6L647.0 789.6L648.5 790.6L650.0 791.7L651.5 792.7L653.0 793.7L654.5 794.7L656.0 795.7L657.5 796.6L659.0 797.6L660.5 798.6L662.0 799.5L663.5 800.5L665.0 801.4L666.5 802.3L668.0 803.3L669.5 804.2L671.0 805.1L672.5 806.0L674.0 806.8L675.5 807.6L677.0 808.4L678.5 809.2L680.0 810.0L681.5 810.7L683.0 811.5L684.5 812.3L686.0 813.2L687.5 814.0L689.0 814.9L690.5 815.9L692.0 816.8L693.5 817.9L695.0 819.0L696.5 820.3L698.0 821.7L699.5 823.3L701.0 824.9L702.5 826.5L704.0 828.0L705.5 829.5L707.0 830.8L708.5 832.2L710.0 833.6L711.5 835.0L713.0 836.3L714.5 837.6L716.0 838.9L717.5 840.2L719.0 841.5L720.5 842.8L722.0 844.0L723.5 845.2L725.0 846.4L726.5 847.5L728.0 848.6L729.5 849.7L731.0 850.7L732.5 851.7L734.0 852.7L735.5 853.7L737.0 854.6L738.5 855.5L740.0 856.5L741.5 857.4L743.0 858.2L744.5 859.1L746.0 859.9L747.5 860.7L749.0 861.5L750.5 862.3L752.0 863.1L753.5 863.8L755.0 864.5L756.5 865.2L758.0 865.9L759.5 866.5L761.0 867.1L762.5 867.7L764.0 868.3L765.5 868.9L767.0 869.4L768.5 870.0L770.0 870.5L771.5 871.0L773.0 871.5L774.5 871.9L776.0 872.4L777.5 872.8L779.0 873.2L780.5 873.6L782.0 874.0L783.5 874.4L785.0 874.7L786.5 875.1L788.0 875.4L789.5 875.7L791.0 876.1L792.5 876.4L794.0 876.7L795.5 877.0L797.0 877.3L798.5 877.6L800.0 877.9L801.5 878.2L803.0 878.6L804.5 878.9L806.0 879.2L807.5 879.5L809.0 879.9L810.5 880.2L812.0 880.5L813.5 880.8L815.0 881.1L816.5 881.4L818.0 881.7L819.5 882.0L821.0 882.3L822.5 882.7L824.0 883.0L825.5 883.4L827.0 883.7L828.5 884.1L830.0 884.5L831.5 884.9L833.0 885.4L834.5 885.9L836.0 886.4L837.5 886.9L839.0 887.5L840.5 888.0L842.0 888.6L843.5 889.2L845.0 889.7L846.5 890.3L848.0 890.8L849.5 891.4L851.0 891.8L852.5 892.1L854.0 892.4L855.5 892.6L857.0 892.8L858.5 893.0L860.0 893.1L861.5 893.2L863.0 893.2L864.5 893.3L866.0 893.3L867.5 893.3L869.0 893.3L870.5 893.4L872.0 893.3L873.5 893.3L875.0 893.2L876.5 893.1L878.0 893.0L879.5 892.9L881.0 892.8L882.5 892.9L884.0 893.0L885.5 893.2L887.0 893.5L888.5 893.9L890.0 894.4L891.5 895.0L893.0 895.8L894.5 896.7L896.0 897.7L897.5 898.9L899.0 900.2L900.5 901.4L902.0 902.6L903.5 904.0L905.0 905.3L906.5 906.6L908.0 907.9L909.5 909.1L911.0 910.1L912.5 911.1L914.0 912.0L915.5 912.9L917.0 913.8L918.5 914.6L920.0 915.3L921.5 916.1L923.0 916.8L924.5 917.4L926.0 917.9L927.5 918.4L929.0 918.8L930.5 919.1L932.0 919.3L933.5 919.5L935.0 919.7L936.5 919.9L938.0 920.1L939.5 920.2L941.0 920.4L942.5 920.4L944.0 920.5L945.5 920.5L947.0 920.5L948.5 920.4L950.0 920.4L951.5 920.3L953.0 920.2L954.5 920.0L956.0 919.9L957.5 919.7L959.0 919.5L960.5 919.3L962.0 919.1L963.5 918.8L965.0 918.2L966.5 917.4L968.0 916.3L969.5 915.1L971.0 913.8L972.5 912.4L974.0 911.0L975.5 909.5L977.0 907.7L978.5 905.6L980.0 903.4L981.5 901.0L983.0 898.6L984.5 896.3L986.0 894.2L987.5 892.5L989.0 890.9L990.5 889.3L992.0 887.7L993.5 886.1L995.0 884.8L996.5 883.7L998.0 882.9L999.5 882.5L1001.0 882.6L1002.5 883.0L1004.0 883.8L1005.5 884.8L1007.0 886.0L1008.5 887.3L1010.0 888.5L1011.5 889.8L1013.0 890.9L1014.5 892.1L1016.0 893.4L1017.5 894.8L1019.0 896.1L1020.5 897.4L1022.0 898.4L1023.5 899.3L1025.0 899.9L1026.5 900.5L1028.0 901.0L1029.5 901.5L1031.0 901.9L1032.5 902.3L1034.0 902.6L1035.5 902.8L1037.0 902.8L1038.5 902.7L1040.0 902.5L1041.5 902.3L1043.0 902.0L1044.5 901.7L1046.0 901.3L1047.5 900.9L1049.0 900.5L1050.5 900.1L1052.0 899.7L1053.5 899.3L1055.0 898.9L1056.5 898.4L1058.0 897.9L1059.5 897.3L1061.0 896.7L1062.5 896.0L1064.0 895.3L1065.5 894.6L1067.0 893.9L1068.5 893.2L1070.0 892.5L1071.5 891.8L1073.0 891.1L1074.5 890.3L1076.0 889.5L1077.5 888.8L1079.0 888.0L1080.5 887.2L1082.0 886.4L1083.5 885.6L1085.0 884.8L1086.5 884.1L1088.0 883.4L1089.5 882.7L1091.0 882.1L1092.5 881.5L1094.0 880.8L1095.5 880.2L1097.0 879.6L1098.5 879.1L1100.0 878.5L1101.5 878.0L1103.0 877.4L1104.5 876.9L1106.0 876.4L1107.5 875.9L1109.0 875.5L1110.5 875.1L1112.0 874.7L1113.5 874.3L1115.0 874.0L1116.5 873.7L1118.0 873.4L1119.5 873.1L1121.0 872.8L1122.5 872.5L1124.0 872.1L1125.5 871.8L1127.0 871.4L1128.5 871.1L1130.0 870.7L1131.5 870.2L1133.0 869.7L1134.5 869.2L1136.0 868.7L1137.5 868.1L1139.0 867.6L1140.5 866.9L1142.0 866.3L1143.5 865.7L1145.0 865.0L1146.5 864.3L1148.0 863.6L1149.5 862.8L1151.0 862.0L1152.5 861.1L1154.0 860.1L1155.5 859.2L1157.0 858.2L1158.5 857.2L1160.0 856.2L1161.5 855.0L1163.0 853.9L1164.5 852.8L1166.0 851.8L1167.5 850.7L1169.0 849.7L1170.5 848.6L1172.0 847.6L1173.5 846.5L1175.0 845.5L1176.5 844.5L1178.0 843.6L1179.5 842.8L1181.0 842.0L1182.5 841.1L1184.0 840.3L1185.5 839.6L1187.0 838.9L1188.5 838.4L1190.0 838.0L1191.5 837.7L1193.0 837.5L1194.5 837.2L1196.0 837.1L1197.5 837.0L1199.0 837.1L1200.5 837.3L1202.0 837.8L1203.5 838.4L1205.0 839.1L1206.5 839.8L1208.0 840.5L1209.5 841.3L1211.0 842.3L1212.5 843.4L1214.0 844.6L1215.5 845.8L1217.0 847.1L1218.5 848.4L1220.0 849.8L1221.5 851.3L1223.0 853.0L1224.5 854.7L1226.0 856.4L1227.5 858.2L1229.0 860.1L1230.5 861.9L1232.0 863.7L1233.5 865.5L1235.0 867.2L1236.5 868.9L1238.0 870.5L1239.5 872.1L1241.0 873.7L1242.5 875.3L1244.0 876.9L1245.5 878.5L1247.0 880.1L1248.5 881.6L1250.0 883.0L1251.5 884.5L1253.0 885.8L1254.5 887.1L1256.0 888.3L1257.5 889.5L1259.0 890.7L1260.5 891.9L1262.0 893.0L1263.5 894.1L1265.0 895.2L1266.5 896.2L1268.0 897.2L1269.5 898.1L1271.0 899.0L1272.5 899.8L1274.0 900.5L1275.5 901.2L1277.0 901.8L1278.5 902.4L1280.0 902.9L1281.5 903.4L1283.0 903.9L1284.5 904.3L1286.0 904.7L1287.5 905.2L1289.0 905.6L1290.5 906.0L1292.0 906.5L1293.5 907.0L1295.0 907.5L1296.5 908.0L1298.0 908.6L1299.5 909.1L1301.0 909.6L1302.5 910.1L1304.0 910.7L1305.5 911.2L1307.0 911.9L1308.5 912.5L1310.0 913.2L1311.5 914.0L1313.0 914.8L1314.5 915.7L1316.0 916.8L1317.5 918.0L1319.0 919.3L1320.5 920.7L1322.0 922.1L1323.5 923.6L1325.0 925.0L1326.5 926.5L1328.0 928.0L1329.5 929.6L1331.0 931.3L1332.5 933.0L1334.0 934.7L1335.5 936.4L1337.0 938.1L1338.5 939.8L1340.0 941.5L1341.5 943.2L1343.0 945.0L1344.5 947.0L1346.0 949.2L1347.5 951.8L1349.0 954.9L1350.5 958.5L1352.0 962.3L1353.5 966.2L1355.0 970.1L1356.5 973.8L1358.0 977.2L1359.5 980.5L1361.0 983.7L1362.5 986.8L1364.0 990.0L1365.5 993.2L1367.0 996.5L1368.5 1000.0L1370.0 1003.6L1371.5 1007.4L1373.0 1011.3L1374.5 1015.3L1376.0 1019.3L1377.5 1023.3L1379.0 1027.3L1380.5 1031.2L1382.0 1035.0L1383.5 1038.8L1385.0 1042.6L1386.5 1046.4L1388.0 1050.2L1389.5 1053.9L1391.0 1057.6L1392.5 1061.3L1394.0 1064.9L1395.5 1068.6L1397.0 1072.3L1398.5 1076.0L1400.0 1079.6L1401.5 1083.2L1403.0 1086.8L1404.5 1090.2L1406.0 1093.6L1407.5 1097.0L1409.0 1100.2L1410.5 1103.5L1412.0 1106.8L1413.5 1110.0L1415.0 1113.2L1416.5 1116.4L1418.0 1119.5L1419.5 1122.7L1421.0 1125.8L1422.5 1128.8L1424.0 1131.8L1425.5 1134.8L1427.0 1137.8L1428.5 1140.7L1430.0 1143.6L1431.5 1146.5L1433.0 1149.3L1434.5 1152.0L1436.0 1154.7L1437.5 1157.4L1439.0 1160.0L1440.5 1162.6L1442.0 1165.1L1443.5 1167.6L1445.0 1170.1L1446.5 1172.6L1448.0 1175.0L1449.5 1177.4L1451.0 1179.7L1452.5 1182.1L1454.0 1184.4L1455.5 1186.7L1457.0 1188.9L1458.5 1191.1L1460.0 1193.3L1461.5 1195.5L1463.0 1197.7L1464.5 1199.8L1466.0 1201.9L1467.5 1203.9L1469.0 1206.0L1470.5 1208.0L1472.0 1210.0L1473.5 1212.0L1475.0 1214.0L1476.5 1215.9L1478.0 1217.9L1479.5 1219.8L1481.0 1221.7L1482.5 1223.6L1484.0 1225.5L1485.5 1227.4L1487.0 1229.3L1488.5 1231.1L1490.0 1232.9L1491.5 1234.8L1493.0 1236.5L1494.5 1238.3L1496.0 1240.1L1497.5 1241.8L1499.0 1243.5L1500.5 1245.2L1502.0 1246.8L1503.5 1248.5L1505.0 1250.1L1506.5 1251.6L1508.0 1253.2L1509.5 1254.7L1511.0 1256.2L1512.5 1257.6L1514.0 1259.1L1515.5 1260.5L1517.0 1261.8L1518.5 1263.2L1520.0 1264.5L1521.5 1265.8L1523.0 1267.1L1524.5 1268.4L1526.0 1269.7L1527.5 1270.9L1529.0 1272.1L1530.5 1273.3L1532.0 1274.5L1533.5 1275.6L1535.0 1276.8L1536.5 1277.9L1538.0 1279.0L1539.5 1280.0L1541.0 1281.1L1542.5 1282.1L1544.0 1283.1L1545.5 1284.1L1547.0 1285.0L1548.5 1285.9L1550.0 1286.8L1551.5 1287.8L1553.0 1288.6L1554.5 1289.5L1556.0 1290.4L1557.5 1291.3L1559.0 1292.1L1560.5 1292.9L1562.0 1293.8L1563.5 1294.6L1565.0 1295.3L1566.5 1296.1L1568.0 1296.9L1569.5 1297.6L1571.0 1298.3L1572.5 1299.0L1574.0 1299.7L1575.5 1300.4L1577.0 1301.0L1578.5 1301.6L1580.0 1302.2L1581.5 1302.8L1583.0 1303.4L1584.5 1303.9L1586.0 1304.3L1587.5 1304.8L1589.0 1305.2L1590.5 1305.6L1592.0 1306.0L1593.5 1306.4L1595.0 1306.8L1596.5 1307.2L1598.0 1307.6L1599.5 1308.0L1601.0 1308.5L1602.5 1309.0L1604.0 1309.6L1605.5 1310.2L1607.0 1310.9L1608.5 1311.6L1610.0 1312.3L1611.5 1313.1L1613.0 1313.9L1614.5 1314.8L1616.0 1315.7L1617.5 1316.7L1619.0 1317.7L1620.5 1318.7L1622.0 1319.7L1623.5 1320.8L1625.0 1322.0L1626.5 1323.1L1628.0 1324.3L1629.5 1325.6L1631.0 1326.8L1632.5 1328.1L1634.0 1329.4L1635.5 1330.8L1637.0 1332.2L1638.5 1333.6L1640.0 1335.0L1641.5 1336.1L1643.0 1337.1L1644.5 1338.2L1646.0 1339.3L1647.5 1340.4"/>
</g>
<g fill="#000" stroke="none">
<rect x="543.5" y="382" width="8.5" height="151"/>
<path d="M543.6 331 L551.9 331 L564 384.7 L531.5 384.7 Z"/>
<rect x="1552.3" y="545" width="8.5" height="172"/>
<path d="M1540 715.3 L1573 715.3 L1560.7 767.5 L1552.4 767.5 Z"/>
</g>
<text x="282" y="1330.5" font-size="82" text-anchor="end">0.0</text>
<text x="282" y="1124.2" font-size="82" text-anchor="end">0.2</text>
<text x="282" y="917.8" font-size="82" text-anchor="end">0.4</text>
<text x="282" y="711.5" font-size="82" text-anchor="end">0.6</text>
<text x="282" y="505.2" font-size="82" text-anchor="end">0.8</text>
<text x="282" y="298.8" font-size="82" text-anchor="end">1.0</text>
<text x="282" y="92.5" font-size="82" text-anchor="end">1.2</text>
<text x="459.2" y="1397.5" font-size="82.5" text-anchor="middle">250</text>
<text x="838.0" y="1397.5" font-size="82.5" text-anchor="middle">300</text>
<text x="1216.7" y="1397.5" font-size="82.5" text-anchor="middle">350</text>
<text x="1595.5" y="1397.5" font-size="82.5" text-anchor="middle">400</text>
<text x="1974.2" y="1397.5" font-size="82.5" text-anchor="middle">450</text>
<text x="1140" y="1501" font-size="93" text-anchor="middle">Wavelength (nm)</text>
<text transform="translate(101.5 697) rotate(-90)" font-size="92.5" text-anchor="middle">Absorbance</text>
</svg></body></html>
